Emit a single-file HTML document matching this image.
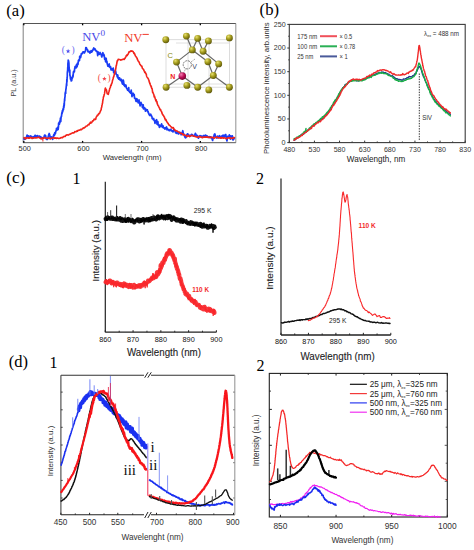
<!DOCTYPE html>
<html><head><meta charset="utf-8"><style>html,body{margin:0;padding:0;background:#fff;width:474px;height:550px;overflow:hidden}svg{display:block}</style></head><body>
<svg width="474" height="550" viewBox="0 0 474 550">
<rect width="474" height="550" fill="#fff"/>
<text x="6.2" y="16.2" font-family='"Liberation Serif", serif' font-size="17" fill="#000" text-anchor="start" textLength="18.5" lengthAdjust="spacingAndGlyphs" >(a)</text>
<line x1="23.2" y1="23.5" x2="23.2" y2="142.7" stroke="#8a8a8a" stroke-width="1.1" />
<line x1="235.8" y1="23.5" x2="235.8" y2="142.7" stroke="#9a9a9a" stroke-width="1.1" />
<line x1="23.2" y1="23.5" x2="235.8" y2="23.5" stroke="#555" stroke-width="1" />
<line x1="23.2" y1="142.7" x2="235.8" y2="142.7" stroke="#555" stroke-width="1" />
<line x1="23.8" y1="142.7" x2="23.8" y2="140.89999999999998" stroke="#000" stroke-width="1.3" />
<line x1="23.8" y1="23.5" x2="23.8" y2="25.3" stroke="#000" stroke-width="1.3" />
<text x="24.7" y="151.3" font-family='"Liberation Sans", sans-serif' font-size="7.4" fill="#2a2a2a" text-anchor="middle" textLength="12.3" lengthAdjust="spacingAndGlyphs" >500</text>
<line x1="82.6" y1="142.7" x2="82.6" y2="140.89999999999998" stroke="#000" stroke-width="1.3" />
<line x1="82.6" y1="23.5" x2="82.6" y2="25.3" stroke="#000" stroke-width="1.3" />
<text x="83.5" y="151.3" font-family='"Liberation Sans", sans-serif' font-size="7.4" fill="#2a2a2a" text-anchor="middle" textLength="12.3" lengthAdjust="spacingAndGlyphs" >600</text>
<line x1="141.6" y1="142.7" x2="141.6" y2="140.89999999999998" stroke="#000" stroke-width="1.3" />
<line x1="141.6" y1="23.5" x2="141.6" y2="25.3" stroke="#000" stroke-width="1.3" />
<text x="142.5" y="151.3" font-family='"Liberation Sans", sans-serif' font-size="7.4" fill="#2a2a2a" text-anchor="middle" textLength="12.3" lengthAdjust="spacingAndGlyphs" >700</text>
<line x1="200.3" y1="142.7" x2="200.3" y2="140.89999999999998" stroke="#000" stroke-width="1.3" />
<line x1="200.3" y1="23.5" x2="200.3" y2="25.3" stroke="#000" stroke-width="1.3" />
<text x="201.20000000000002" y="151.3" font-family='"Liberation Sans", sans-serif' font-size="7.4" fill="#2a2a2a" text-anchor="middle" textLength="12.3" lengthAdjust="spacingAndGlyphs" >800</text>
<text x="132.2" y="159.5" font-family='"Liberation Sans", sans-serif' font-size="7.5" fill="#2a2a2a" text-anchor="middle" textLength="59" lengthAdjust="spacingAndGlyphs" >Wavelength (nm)</text>
<text x="0" y="0" transform="translate(13.8,83) rotate(-90)" font-family='"Liberation Sans", sans-serif' font-size="7.6" fill="#444" text-anchor="middle" dominant-baseline="central" textLength="27" lengthAdjust="spacingAndGlyphs" >PL (a.u.)</text>
<path d="M24.0,138.3 L24.3,139.5 L24.7,138.6 L25.1,138.1 L25.5,138.9 L26.0,138.3 L26.5,137.2 L27.1,135.0 L27.7,137.4 L28.3,135.8 L28.9,137.8 L29.5,136.3 L30.1,136.7 L30.8,135.9 L31.4,137.0 L32.1,137.8 L32.7,136.9 L33.3,136.6 L33.9,137.6 L34.5,137.4 L35.0,135.3 L35.6,135.6 L36.2,137.5 L36.8,137.2 L37.3,135.5 L37.9,136.2 L38.5,136.6 L39.1,136.2 L39.6,136.1 L40.2,136.6 L40.8,137.4 L41.3,137.2 L41.9,138.4 L42.4,138.7 L43.0,137.6 L43.5,138.2 L44.0,137.2 L44.5,135.3 L45.0,135.0 L45.6,135.6 L46.3,139.2 L46.9,139.5 L47.5,139.4 L48.1,137.1 L48.6,135.1 L49.2,133.5 L49.8,135.3 L50.3,138.6 L50.8,137.2 L51.3,136.8 L51.8,138.2 L52.3,137.6 L52.7,139.3 L53.1,137.5 L53.5,135.8 L53.8,134.7 L54.1,135.8 L54.4,135.4 L54.7,132.9 L55.0,134.0 L55.3,133.8 L55.5,133.2 L55.8,131.0 L56.0,131.2 L56.3,130.3 L56.5,128.4 L56.7,130.2 L56.9,129.8 L57.2,129.1 L57.4,128.5 L57.6,129.9 L57.8,127.0 L58.0,127.1 L58.2,129.3 L58.3,128.2 L58.5,126.3 L58.6,123.2 L58.8,124.8 L59.0,123.7 L59.2,124.3 L59.3,123.6 L59.5,123.9 L59.6,121.4 L59.8,122.2 L59.9,122.6 L60.1,120.4 L60.3,120.1 L60.4,118.2 L60.6,120.8 L60.8,121.5 L60.9,119.4 L61.1,116.9 L61.2,117.5 L61.4,115.8 L61.5,116.5 L61.6,115.2 L61.8,112.9 L61.9,114.0 L62.1,113.5 L62.2,112.0 L62.4,110.7 L62.5,111.2 L62.7,111.8 L62.8,110.8 L63.0,108.8 L63.1,109.3 L63.2,109.4 L63.4,109.7 L63.5,109.3 L63.6,106.6 L63.7,106.3 L63.8,105.6 L63.9,107.8 L64.0,105.9 L64.0,104.5 L64.1,103.3 L64.2,105.9 L64.3,104.7 L64.4,101.4 L64.4,101.9 L64.5,100.8 L64.6,98.8 L64.7,100.4 L64.7,100.6 L64.8,97.9 L64.9,97.4 L64.9,97.2 L65.0,97.1 L65.1,95.2 L65.1,94.4 L65.2,92.9 L65.3,93.2 L65.4,93.5 L65.4,92.1 L65.5,92.2 L65.6,92.6 L65.7,93.5 L65.7,91.5 L65.8,90.2 L65.9,88.9 L66.0,89.3 L66.0,89.1 L66.1,88.3 L66.2,86.9 L66.2,86.5 L66.3,86.7 L66.4,85.2 L66.4,85.2 L66.5,84.0 L66.6,83.5 L66.6,84.7 L66.7,85.4 L66.7,83.5 L66.8,81.4 L66.8,79.6 L66.9,81.8 L66.9,82.1 L67.0,81.6 L67.0,81.4 L67.1,78.3 L67.1,77.2 L67.1,77.8 L67.2,77.8 L67.2,77.4 L67.3,76.0 L67.3,74.2 L67.4,71.5 L67.4,71.8 L67.5,71.4 L67.5,71.3 L67.5,71.2 L67.6,72.0 L67.6,69.8 L67.7,70.9 L67.7,71.0 L67.7,67.5 L67.8,67.8 L67.8,68.9 L67.9,66.3 L67.9,64.4 L67.9,63.5 L68.0,65.2 L68.0,63.5 L68.0,63.3 L68.1,61.7 L68.1,62.7 L68.2,61.8 L68.2,60.1 L68.3,60.6 L68.3,61.6 L68.4,63.5 L68.4,62.9 L68.5,63.5 L68.6,62.7 L68.6,60.8 L68.7,62.1 L68.8,62.0 L68.8,64.2 L68.9,62.8 L69.0,65.8 L69.1,67.6 L69.2,67.5 L69.2,69.4 L69.3,69.5 L69.4,70.1 L69.5,71.1 L69.6,72.6 L69.7,72.0 L69.8,70.0 L69.8,70.6 L69.9,75.4 L70.0,75.5 L70.1,76.0 L70.2,75.9 L70.3,76.6 L70.4,78.1 L70.5,79.1 L70.6,78.8 L70.7,78.6 L70.8,79.5 L70.9,78.0 L71.0,79.1 L71.1,80.9 L71.3,79.3 L71.4,80.8 L71.6,79.4 L71.7,80.6 L71.9,79.2 L72.0,77.4 L72.2,78.3 L72.4,78.2 L72.6,76.9 L72.8,75.5 L73.0,76.8 L73.2,74.7 L73.4,71.9 L73.6,72.9 L73.9,71.4 L74.1,70.9 L74.4,71.6 L74.6,69.2 L74.9,67.6 L75.1,66.5 L75.4,66.4 L75.6,67.1 L75.8,66.6 L76.0,67.9 L76.3,67.5 L76.5,64.6 L76.7,66.4 L76.9,66.9 L77.1,66.5 L77.3,65.4 L77.5,63.1 L77.7,63.2 L78.0,64.4 L78.2,62.5 L78.4,60.4 L78.6,61.3 L78.8,61.0 L79.0,59.6 L79.3,59.7 L79.5,60.5 L79.7,56.4 L80.0,57.9 L80.2,57.2 L80.4,56.0 L80.6,57.4 L80.8,56.7 L81.4,53.5 L81.9,54.0 L82.4,53.3 L83.0,51.8 L83.3,52.4 L83.6,51.8 L83.9,52.3 L84.2,53.0 L84.6,52.8 L84.9,51.8 L85.2,51.3 L85.5,51.1 L85.8,47.5 L86.4,47.8 L86.9,49.4 L87.5,49.6 L88.0,51.8 L88.6,52.0 L89.2,51.5 L90.0,53.1 L90.5,52.3 L91.1,50.6 L91.7,52.1 L92.4,51.0 L93.0,49.5 L93.7,48.0 L94.2,49.7 L94.7,48.7 L95.2,49.1 L95.7,50.5 L96.1,51.2 L96.5,51.1 L97.0,51.3 L97.4,53.0 L97.7,55.7 L98.1,51.9 L98.5,53.3 L98.9,53.8 L99.3,54.4 L99.7,53.3 L100.1,52.5 L100.6,53.6 L101.2,54.7 L101.8,57.0 L102.4,53.9 L102.9,52.7 L103.5,55.6 L103.8,54.3 L104.0,54.8 L104.2,55.4 L104.4,57.0 L104.7,59.4 L104.9,59.3 L105.1,57.8 L105.4,58.7 L105.6,61.8 L105.9,60.3 L106.2,58.4 L106.5,62.2 L106.9,61.2 L107.2,63.8 L107.5,64.4 L107.8,66.2 L108.1,66.1 L108.4,66.4 L108.8,64.5 L109.2,64.0 L109.5,66.4 L109.9,67.3 L110.3,66.5 L110.7,67.0 L111.0,69.8 L111.4,70.0 L111.8,69.9 L112.2,68.7 L112.6,69.3 L112.9,70.2 L113.3,68.2 L113.6,72.3 L113.9,72.8 L114.3,71.2 L114.6,73.2 L114.9,73.5 L115.3,73.5 L115.6,70.8 L115.9,72.6 L116.2,74.1 L116.5,74.7 L116.9,74.7 L117.2,77.0 L117.5,76.7 L117.8,75.0 L118.1,78.5 L118.5,78.3 L118.8,79.1 L119.2,77.8 L119.5,78.4 L119.8,78.1 L120.2,80.3 L120.5,80.5 L120.8,80.2 L121.2,79.3 L121.5,79.5 L121.9,82.1 L122.2,83.3 L122.6,84.1 L122.9,82.7 L123.3,80.1 L123.6,81.5 L124.0,85.4 L124.4,84.4 L124.8,86.3 L125.1,86.5 L125.5,85.1 L125.9,85.0 L126.3,87.1 L126.6,88.3 L127.0,88.8 L127.3,89.3 L127.6,90.1 L128.0,89.4 L128.3,90.6 L128.7,87.5 L129.0,91.3 L129.4,91.6 L129.8,92.3 L130.1,91.8 L130.5,93.1 L130.8,92.9 L131.2,90.0 L131.6,93.5 L132.0,96.7 L132.3,94.6 L132.7,94.3 L133.1,93.2 L133.5,95.4 L133.8,95.4 L134.2,94.5 L134.6,98.3 L135.0,98.4 L135.3,98.3 L135.7,100.1 L136.0,101.3 L136.4,101.3 L136.8,98.6 L137.1,99.3 L137.5,101.5 L137.9,101.8 L138.2,102.9 L138.6,102.3 L139.0,99.9 L139.4,102.8 L139.8,104.1 L140.1,105.9 L140.5,103.8 L140.9,102.3 L141.3,103.3 L141.6,104.2 L142.0,104.6 L142.4,107.5 L142.8,107.6 L143.2,104.9 L143.5,109.0 L143.9,107.3 L144.3,107.9 L144.7,108.3 L145.0,108.2 L145.4,111.1 L145.8,110.6 L146.2,109.4 L146.6,110.4 L147.0,110.2 L147.3,109.8 L147.7,111.7 L148.1,111.4 L148.5,113.1 L148.9,114.1 L149.3,114.5 L149.6,115.5 L150.0,114.5 L150.4,114.2 L150.8,114.3 L151.1,115.7 L151.5,116.3 L151.8,116.2 L152.2,118.7 L152.5,118.4 L152.9,118.4 L153.2,119.6 L153.7,118.6 L154.1,120.3 L154.6,121.1 L155.0,123.4 L155.4,120.6 L155.8,121.0 L156.2,120.7 L156.6,119.7 L157.0,124.1 L157.4,124.5 L157.8,121.5 L158.2,124.0 L158.5,125.3 L158.9,124.7 L159.4,127.4 L159.8,126.8 L160.2,125.3 L160.7,125.4 L161.1,126.5 L161.6,123.9 L162.1,125.6 L162.6,127.5 L163.0,125.8 L163.5,127.7 L164.0,128.2 L164.5,127.9 L165.0,129.2 L165.5,127.8 L166.0,127.7 L166.5,127.0 L167.0,129.9 L167.5,128.6 L168.0,129.4 L168.5,129.8 L169.0,130.6 L169.5,130.6 L170.0,129.5 L170.5,129.4 L170.9,129.3 L171.4,131.0 L171.9,130.6 L172.4,131.2 L173.0,131.9 L173.6,129.9 L174.2,129.7 L174.9,130.7 L175.6,132.6 L176.4,133.3 L176.8,132.1 L177.3,131.9 L177.7,133.1 L178.2,133.9 L178.6,134.0 L179.1,133.1 L179.6,132.3 L180.1,132.4 L180.6,133.1 L181.2,134.8 L181.7,133.2 L182.3,132.5 L182.8,130.7 L183.4,133.8 L183.9,134.0 L184.5,136.0 L185.1,137.5 L185.7,137.9 L186.2,137.1 L186.8,134.9 L187.4,133.8 L188.0,134.1 L188.6,135.2 L189.2,136.0 L189.7,135.3 L190.3,135.9 L190.9,135.7 L191.5,134.3 L192.0,134.5 L192.6,134.9 L193.1,135.9 L193.7,136.1 L194.2,135.3 L194.7,135.2 L195.3,133.4 L195.8,134.0 L196.3,136.2 L196.8,135.4 L197.4,135.6 L197.9,136.9 L198.4,138.2 L198.9,137.4 L199.5,136.2 L200.0,135.7 L200.5,135.8 L201.1,135.9 L201.6,136.2 L202.1,137.0 L202.7,136.8 L203.3,135.7 L203.8,135.6 L204.4,136.7 L205.0,135.3 L205.6,135.2 L206.2,136.4 L206.8,135.7 L207.4,136.3 L208.0,137.4 L208.7,136.8 L209.3,136.7 L210.0,137.6 L210.5,136.8 L211.0,137.6 L211.5,137.3 L212.0,138.7 L212.6,140.5 L213.2,137.8 L213.7,136.9 L214.3,134.5 L214.9,134.0 L215.6,137.1 L216.2,137.1 L216.8,138.1 L217.4,136.1 L218.1,137.6 L218.7,137.0 L219.4,135.7 L220.0,136.9 L220.7,137.8 L221.3,136.2 L222.0,137.0 L222.6,135.4 L223.3,136.9 L223.9,135.1 L224.6,136.3 L225.2,135.1 L225.8,134.5 L226.4,138.8 L227.0,140.9 L227.6,136.4 L228.2,137.4 L228.8,136.6 L229.3,134.9 L229.9,136.3 L230.4,139.1 L230.9,135.9 L231.4,137.2 L231.8,137.2 L232.3,135.8 L232.7,139.3 L233.1,140.0 L233.4,137.7 L233.8,139.1 L234.1,138.0 L234.4,138.1" fill="none" stroke="#1a3cf5" stroke-width="1.7" stroke-linejoin="round" stroke-linecap="round" />
<path d="M24.0,137.6 L24.3,138.0 L24.7,138.3 L25.1,138.5 L25.5,138.9 L26.0,137.9 L26.5,138.0 L27.1,137.7 L27.6,137.8 L28.2,138.2 L28.8,137.9 L29.4,138.2 L30.1,137.4 L30.8,138.0 L31.4,137.5 L32.1,138.5 L32.8,138.0 L33.5,138.1 L34.3,137.7 L35.0,137.7 L35.7,138.0 L36.4,137.7 L37.2,137.8 L37.9,137.3 L38.6,137.3 L39.3,137.6 L40.0,138.3 L40.6,138.5 L41.1,139.0 L41.7,138.2 L42.3,138.5 L42.9,138.1 L43.5,138.0 L44.2,137.8 L44.8,137.9 L45.5,137.9 L46.1,138.3 L46.8,138.2 L47.5,138.4 L48.1,138.3 L48.8,138.1 L49.5,137.9 L50.1,138.9 L50.8,138.4 L51.4,138.5 L52.1,138.1 L52.8,137.8 L53.4,137.5 L54.0,138.0 L54.6,138.2 L55.3,137.8 L55.8,138.3 L56.4,138.4 L57.0,137.8 L57.5,138.2 L58.1,138.3 L58.6,138.5 L59.1,138.4 L59.6,138.2 L60.0,138.3 L60.9,137.6 L61.7,137.6 L62.5,137.7 L63.2,136.9 L63.8,136.5 L64.4,136.4 L64.9,136.5 L65.4,136.2 L65.9,135.4 L66.3,135.0 L66.8,135.2 L67.2,134.9 L67.7,134.9 L68.2,135.1 L68.7,134.9 L69.3,134.4 L69.9,134.3 L70.5,134.0 L71.0,133.6 L71.6,133.5 L72.1,133.0 L72.7,132.9 L73.2,132.9 L73.8,132.9 L74.3,132.6 L74.9,131.5 L75.4,131.8 L76.0,131.8 L76.6,131.6 L77.1,130.6 L77.7,131.1 L78.3,130.3 L78.9,130.2 L79.4,130.1 L80.0,130.0 L80.6,129.4 L81.2,129.8 L81.8,129.3 L82.3,128.6 L82.9,128.7 L83.4,127.8 L83.9,127.8 L84.5,127.9 L85.0,127.1 L85.6,126.9 L86.1,126.1 L86.6,126.0 L87.1,126.0 L87.6,125.4 L88.1,124.7 L88.5,124.6 L89.0,124.8 L89.5,123.6 L90.0,123.0 L90.5,122.1 L90.9,123.1 L91.4,122.7 L91.8,122.5 L92.2,121.5 L92.7,120.8 L93.1,120.9 L93.6,120.4 L94.0,119.3 L94.4,119.0 L94.9,119.5 L95.3,119.0 L95.7,119.3 L96.1,117.3 L96.4,116.8 L96.8,116.4 L97.2,115.5 L97.5,115.1 L97.9,115.3 L98.3,114.2 L98.6,114.0 L99.0,113.4 L99.3,113.7 L99.6,113.1 L100.0,112.2 L100.3,111.2 L100.5,110.9 L100.8,110.5 L101.0,109.9 L101.2,109.6 L101.3,108.0 L101.5,107.8 L101.6,107.3 L101.8,106.7 L101.9,105.4 L102.0,105.2 L102.2,104.7 L102.3,103.8 L102.4,103.4 L102.5,103.4 L102.6,102.8 L102.7,101.4 L102.8,100.7 L102.9,100.5 L103.0,99.4 L103.1,99.3 L103.2,98.7 L103.3,97.9 L103.5,96.9 L103.7,96.4 L103.8,96.2 L104.0,95.8 L104.1,94.7 L104.2,94.4 L104.4,94.0 L104.5,93.7 L104.6,93.1 L104.7,92.4 L104.8,91.7 L104.9,91.0 L105.0,89.8 L105.1,89.3 L105.2,88.6 L105.4,88.1 L105.6,88.5 L105.8,90.0 L106.1,89.5 L106.4,89.8 L106.7,91.1 L107.0,92.9 L107.2,93.5 L107.5,94.0 L107.8,94.0 L108.0,93.9 L108.3,94.3 L108.5,93.5 L108.7,92.4 L108.9,91.7 L109.1,91.2 L109.4,90.0 L109.6,89.2 L109.8,88.3 L110.0,87.9 L110.2,87.9 L110.4,87.2 L110.6,86.1 L110.8,85.3 L111.0,85.0 L111.2,85.3 L111.5,83.8 L111.7,83.7 L112.0,82.8 L112.1,82.6 L112.3,81.8 L112.4,80.7 L112.6,80.2 L112.8,79.8 L112.9,79.2 L113.1,78.5 L113.3,77.7 L113.4,77.3 L113.6,77.0 L113.8,76.6 L114.0,75.6 L114.2,75.0 L114.3,74.0 L114.5,73.6 L114.7,73.9 L114.8,72.6 L115.0,72.2 L115.2,71.0 L115.3,70.3 L115.5,69.4 L115.6,69.6 L115.8,68.6 L115.9,67.5 L116.0,67.3 L116.1,65.7 L116.3,65.9 L116.4,65.4 L116.5,65.0 L116.6,64.2 L116.8,63.5 L116.9,62.4 L117.0,62.3 L117.2,60.7 L117.4,61.2 L117.6,60.8 L117.8,60.3 L118.3,59.2 L118.9,59.4 L119.6,59.6 L120.3,59.8 L121.0,60.2 L121.7,59.7 L122.3,59.4 L122.9,59.6 L123.4,59.0 L123.9,59.3 L124.3,59.4 L124.7,58.5 L125.0,58.3 L125.4,57.5 L125.8,56.8 L126.3,55.6 L126.7,55.8 L127.0,54.8 L127.4,55.3 L127.8,54.3 L128.2,54.0 L128.6,52.9 L129.0,51.8 L129.4,52.1 L129.8,51.9 L130.1,51.7 L130.5,51.0 L131.1,50.9 L131.6,51.3 L132.1,51.1 L132.7,51.3 L133.2,51.7 L133.9,53.5 L134.2,53.0 L134.4,53.3 L134.7,54.2 L135.0,54.8 L135.3,55.7 L135.6,56.1 L135.9,56.3 L136.2,56.9 L136.5,57.3 L136.8,57.9 L137.1,58.2 L137.5,59.8 L137.8,59.9 L138.1,61.1 L138.4,61.2 L138.7,61.6 L139.0,61.9 L139.3,62.6 L139.6,63.5 L139.9,64.3 L140.3,64.6 L140.6,65.1 L140.9,65.6 L141.2,65.8 L141.5,66.1 L141.8,66.0 L142.1,67.2 L142.4,68.4 L142.8,68.5 L143.1,69.1 L143.4,69.2 L143.7,69.7 L144.0,70.8 L144.3,70.9 L144.6,71.9 L144.8,72.4 L145.1,72.7 L145.4,72.4 L145.7,73.6 L146.0,73.6 L146.3,74.1 L146.5,75.7 L146.8,76.5 L147.1,77.1 L147.4,77.6 L147.7,77.7 L147.9,78.4 L148.2,78.6 L148.5,79.3 L148.7,80.2 L149.0,80.3 L149.2,81.8 L149.4,81.8 L149.6,82.8 L149.9,83.6 L150.1,83.5 L150.3,84.7 L150.5,85.3 L150.7,85.4 L150.9,85.9 L151.1,86.7 L151.3,86.4 L151.5,87.6 L151.7,88.3 L151.9,88.6 L152.1,88.6 L152.3,89.8 L152.5,91.3 L152.6,92.3 L152.8,92.1 L153.0,92.6 L153.2,93.2 L153.4,93.9 L153.7,94.1 L153.9,95.0 L154.1,96.3 L154.3,97.0 L154.6,96.3 L154.8,97.4 L155.0,97.7 L155.2,98.8 L155.4,99.1 L155.6,99.7 L155.8,100.5 L156.1,99.7 L156.3,101.7 L156.5,101.4 L156.7,101.2 L157.0,101.8 L157.2,103.6 L157.5,104.2 L157.8,105.2 L158.1,105.5 L158.3,105.6 L158.6,106.6 L158.9,106.8 L159.1,107.6 L159.4,108.0 L159.7,108.7 L159.9,109.3 L160.2,109.9 L160.5,109.4 L160.8,110.2 L161.0,110.8 L161.3,111.3 L161.6,111.7 L161.8,112.6 L162.1,113.6 L162.4,113.9 L162.7,114.8 L162.9,114.7 L163.2,115.3 L163.5,115.6 L163.8,116.1 L164.1,116.9 L164.5,117.2 L164.8,118.7 L165.1,119.2 L165.4,119.9 L165.8,119.3 L166.1,120.1 L166.4,121.1 L166.8,121.4 L167.1,122.1 L167.5,122.7 L167.8,123.2 L168.2,123.5 L168.6,124.5 L168.9,124.7 L169.3,125.3 L169.7,125.3 L170.1,125.7 L170.5,126.2 L171.0,126.7 L171.4,127.1 L171.9,128.0 L172.4,127.5 L172.8,127.9 L173.3,127.5 L173.8,128.7 L174.4,129.9 L174.9,129.8 L175.4,130.6 L175.9,130.5 L176.4,130.9 L177.0,131.1 L177.5,131.3 L178.1,131.7 L178.6,132.0 L179.2,132.3 L179.7,132.6 L180.3,133.4 L180.9,133.0 L181.4,133.6 L182.0,133.8 L182.5,133.7 L183.0,134.8 L183.4,134.3 L183.8,134.8 L184.3,135.3 L184.8,135.1 L185.4,135.3 L186.1,135.6 L187.0,136.6 L188.0,135.8 L188.4,135.4 L188.8,136.3 L189.3,136.2 L189.7,136.6 L190.2,136.3 L190.7,135.8 L191.2,135.8 L191.7,135.4 L192.2,135.3 L192.8,135.8 L193.3,135.9 L193.9,136.3 L194.4,136.2 L195.0,136.5 L195.6,136.7 L196.3,136.8 L196.9,137.2 L197.6,137.1 L198.2,137.0 L198.9,136.5 L199.6,136.5 L200.3,136.9 L201.1,137.1 L201.8,137.5 L202.6,137.8 L203.4,136.9 L204.2,137.2 L205.0,137.1 L205.5,137.1 L206.0,137.3 L206.5,137.1 L207.1,137.3 L207.6,136.9 L208.2,137.4 L208.8,137.4 L209.4,137.2 L210.0,137.6 L210.7,137.1 L211.3,137.5 L212.0,137.4 L212.7,137.5 L213.4,137.4 L214.0,138.2 L214.7,137.9 L215.4,137.4 L216.1,137.2 L216.9,137.1 L217.6,137.5 L218.3,137.9 L219.0,138.0 L219.7,137.7 L220.4,138.1 L221.1,137.4 L221.8,138.1 L222.5,137.7 L223.2,138.2 L223.9,137.9 L224.6,137.8 L225.2,138.2 L225.9,138.3 L226.5,138.8 L227.2,138.3 L227.8,137.7 L228.4,137.9 L229.0,137.7 L229.5,138.1 L230.1,137.8 L230.6,138.2 L231.1,138.0 L231.6,138.5 L232.1,138.3 L232.6,138.0 L233.0,137.8 L233.4,138.1 L233.7,137.6 L234.1,137.8 L234.4,137.5" fill="none" stroke="#f2231a" stroke-width="1.6" stroke-linejoin="round" stroke-linecap="round" />
<line x1="42.9" y1="137.5" x2="42.9" y2="141.5" stroke="#f2231a" stroke-width="1" />
<text x="68.2" y="53.2" font-family='"Liberation Serif", serif' font-size="9.5" fill="#6a6af0" text-anchor="middle" >(<tspan dx="4.2"> </tspan>)</text>
<polygon points="68.10,48.80 68.69,50.38 70.38,50.46 69.06,51.51 69.51,53.14 68.10,52.21 66.69,53.14 67.14,51.51 65.82,50.46 67.51,50.38" fill="#4a4af0"/>
<text x="82.2" y="40.8" font-family='"Liberation Serif", serif' font-size="11.5" fill="#4a4ae8" text-anchor="start" textLength="18.3" lengthAdjust="spacingAndGlyphs" >NV</text>
<text x="100.6" y="36.3" font-family='"Liberation Serif", serif' font-size="8.5" fill="#4a4ae8" text-anchor="start" textLength="4.6" lengthAdjust="spacingAndGlyphs" >0</text>
<text x="104.3" y="81.0" font-family='"Liberation Serif", serif' font-size="9.5" fill="#f2504a" text-anchor="middle" >(<tspan dx="4.2"> </tspan>)</text>
<polygon points="104.40,76.40 104.99,77.98 106.68,78.06 105.36,79.11 105.81,80.74 104.40,79.81 102.99,80.74 103.44,79.11 102.12,78.06 103.81,77.98" fill="#f2404a"/>
<text x="124.2" y="41.9" font-family='"Liberation Serif", serif' font-size="11.5" fill="#f03a2a" text-anchor="start" textLength="18.3" lengthAdjust="spacingAndGlyphs" >NV</text>
<line x1="142.5" y1="34.4" x2="148.8" y2="34.4" stroke="#f03a2a" stroke-width="1.0" />
<g stroke="#d4d4d4" stroke-width="0.8" fill="none">
<rect x="166" y="39.7" width="63.4" height="47.5"/>
<line x1="176" y1="43" x2="229" y2="43" stroke="#d8d8d8" stroke-width="0.8" />
<line x1="188" y1="40" x2="188" y2="88" stroke="#d8d8d8" stroke-width="0.8" />
<line x1="209" y1="42" x2="209" y2="89" stroke="#d8d8d8" stroke-width="0.8" />
<line x1="166" y1="84" x2="229" y2="84" stroke="#d8d8d8" stroke-width="0.8" />
</g>
<line x1="186.4" y1="36.1" x2="192.3" y2="49.9" stroke="#666" stroke-width="1.2" />
<line x1="197.7" y1="38.4" x2="192.3" y2="49.9" stroke="#666" stroke-width="1.2" />
<line x1="197.7" y1="38.4" x2="203.1" y2="51.3" stroke="#666" stroke-width="1.2" />
<line x1="208.4" y1="40.9" x2="203.1" y2="51.3" stroke="#666" stroke-width="1.2" />
<line x1="192.3" y1="49.9" x2="176.5" y2="62.1" stroke="#666" stroke-width="1.2" />
<line x1="192.3" y1="49.9" x2="207.9" y2="61.7" stroke="#666" stroke-width="1.2" />
<line x1="203.1" y1="51.3" x2="218.7" y2="63.9" stroke="#666" stroke-width="1.2" />
<line x1="176.5" y1="62.1" x2="182.3" y2="76.1" stroke="#666" stroke-width="1.2" />
<line x1="182.3" y1="76.1" x2="166.1" y2="87.2" stroke="#666" stroke-width="1.2" />
<line x1="182.3" y1="76.1" x2="197.7" y2="87.2" stroke="#666" stroke-width="1.2" />
<line x1="207.9" y1="61.7" x2="213.3" y2="75.5" stroke="#666" stroke-width="1.2" />
<line x1="218.7" y1="63.9" x2="213.3" y2="75.5" stroke="#666" stroke-width="1.2" />
<line x1="213.3" y1="75.5" x2="197.7" y2="87.2" stroke="#666" stroke-width="1.2" />
<line x1="213.3" y1="75.5" x2="229.4" y2="87.2" stroke="#666" stroke-width="1.2" />
<defs><radialGradient id="gold" cx="0.35" cy="0.3" r="0.75"><stop offset="0" stop-color="#e8e070"/><stop offset="0.45" stop-color="#a8a020"/><stop offset="1" stop-color="#5a5408"/></radialGradient><radialGradient id="mag" cx="0.35" cy="0.3" r="0.75"><stop offset="0" stop-color="#f080b0"/><stop offset="0.5" stop-color="#c0105a"/><stop offset="1" stop-color="#70002a"/></radialGradient></defs>
<circle cx="165.8" cy="39.7" r="3.45" fill="url(#gold)"/>
<circle cx="186.4" cy="36.1" r="3.45" fill="url(#gold)"/>
<circle cx="197.7" cy="38.4" r="3.45" fill="url(#gold)"/>
<circle cx="208.4" cy="40.9" r="3.45" fill="url(#gold)"/>
<circle cx="229.4" cy="37.9" r="3.45" fill="url(#gold)"/>
<circle cx="192.3" cy="49.9" r="3.45" fill="url(#gold)"/>
<circle cx="203.1" cy="51.3" r="3.45" fill="url(#gold)"/>
<circle cx="176.5" cy="62.1" r="3.45" fill="url(#gold)"/>
<circle cx="207.9" cy="61.7" r="3.45" fill="url(#gold)"/>
<circle cx="218.7" cy="63.9" r="3.45" fill="url(#gold)"/>
<circle cx="182.3" cy="76.1" r="3.8" fill="url(#mag)"/>
<circle cx="213.3" cy="75.5" r="3.45" fill="url(#gold)"/>
<circle cx="166.1" cy="87.2" r="3.45" fill="url(#gold)"/>
<circle cx="186.9" cy="85.4" r="3.45" fill="url(#gold)"/>
<circle cx="197.7" cy="87.2" r="3.45" fill="url(#gold)"/>
<circle cx="208.8" cy="89.9" r="3.45" fill="url(#gold)"/>
<circle cx="229.4" cy="87.2" r="3.45" fill="url(#gold)"/>
<circle cx="187.3" cy="64.8" r="4.1" fill="none" stroke="#555" stroke-width="0.8" stroke-dasharray="2,0.8"/>
<line x1="183.5" y1="73" x2="185.8" y2="68.5" stroke="#777" stroke-width="0.8" stroke-dasharray="1,1"/>
<line x1="191" y1="62" x2="195" y2="59" stroke="#777" stroke-width="0.8" stroke-dasharray="1,1"/>
<text x="192.3" y="69.3" font-family='"Liberation Sans", sans-serif' font-size="7" fill="#3a4a6a" text-anchor="start" >V</text>
<text x="167.5" y="58.3" font-family='"Liberation Sans", sans-serif' font-size="7.5" fill="#8a8a10" text-anchor="start" >C</text>
<text x="170.3" y="78.8" font-family='"Liberation Sans", sans-serif' font-size="7" fill="#f02020" text-anchor="start" font-weight="bold">N</text>
<text x="259.6" y="15.2" font-family='"Liberation Serif", serif' font-size="17" fill="#000" text-anchor="start" textLength="19.4" lengthAdjust="spacingAndGlyphs" >(b)</text>
<rect x="289.3" y="24.4" width="175.89999999999998" height="118.19999999999999" fill="none" stroke="#3a3a3a" stroke-width="1.1"/>
<line x1="287.3" y1="142.6" x2="289.3" y2="142.6" stroke="#333" stroke-width="1" />
<text x="285.6" y="144.79999999999998" font-family='"Liberation Sans", sans-serif' font-size="7.4" fill="#333" text-anchor="end" textLength="4" lengthAdjust="spacingAndGlyphs" >0</text>
<line x1="287.3" y1="118.96" x2="289.3" y2="118.96" stroke="#333" stroke-width="1" />
<text x="285.6" y="121.16" font-family='"Liberation Sans", sans-serif' font-size="7.4" fill="#333" text-anchor="end" textLength="7.9" lengthAdjust="spacingAndGlyphs" >50</text>
<line x1="287.3" y1="95.32" x2="289.3" y2="95.32" stroke="#333" stroke-width="1" />
<text x="285.6" y="97.52" font-family='"Liberation Sans", sans-serif' font-size="7.4" fill="#333" text-anchor="end" textLength="11.8" lengthAdjust="spacingAndGlyphs" >100</text>
<line x1="287.3" y1="71.67999999999999" x2="289.3" y2="71.67999999999999" stroke="#333" stroke-width="1" />
<text x="285.6" y="73.88" font-family='"Liberation Sans", sans-serif' font-size="7.4" fill="#333" text-anchor="end" textLength="11.8" lengthAdjust="spacingAndGlyphs" >150</text>
<line x1="287.3" y1="48.040000000000006" x2="289.3" y2="48.040000000000006" stroke="#333" stroke-width="1" />
<text x="285.6" y="50.24000000000001" font-family='"Liberation Sans", sans-serif' font-size="7.4" fill="#333" text-anchor="end" textLength="11.8" lengthAdjust="spacingAndGlyphs" >200</text>
<line x1="287.3" y1="24.400000000000006" x2="289.3" y2="24.400000000000006" stroke="#333" stroke-width="1" />
<text x="285.6" y="26.600000000000005" font-family='"Liberation Sans", sans-serif' font-size="7.4" fill="#333" text-anchor="end" textLength="11.8" lengthAdjust="spacingAndGlyphs" >250</text>
<line x1="288.1" y1="130.78" x2="289.3" y2="130.78" stroke="#333" stroke-width="0.8" />
<line x1="288.1" y1="107.13999999999999" x2="289.3" y2="107.13999999999999" stroke="#333" stroke-width="0.8" />
<line x1="288.1" y1="83.5" x2="289.3" y2="83.5" stroke="#333" stroke-width="0.8" />
<line x1="288.1" y1="59.860000000000014" x2="289.3" y2="59.860000000000014" stroke="#333" stroke-width="0.8" />
<line x1="288.1" y1="36.22000000000001" x2="289.3" y2="36.22000000000001" stroke="#333" stroke-width="0.8" />
<line x1="289.3" y1="142.6" x2="289.3" y2="140.6" stroke="#333" stroke-width="1" />
<text x="289.3" y="152.3" font-family='"Liberation Sans", sans-serif' font-size="7.4" fill="#333" text-anchor="middle" textLength="11.8" lengthAdjust="spacingAndGlyphs" >480</text>
<line x1="314.42857142857144" y1="142.6" x2="314.42857142857144" y2="140.6" stroke="#333" stroke-width="1" />
<text x="314.42857142857144" y="152.3" font-family='"Liberation Sans", sans-serif' font-size="7.4" fill="#333" text-anchor="middle" textLength="11.8" lengthAdjust="spacingAndGlyphs" >530</text>
<line x1="339.5571428571429" y1="142.6" x2="339.5571428571429" y2="140.6" stroke="#333" stroke-width="1" />
<text x="339.5571428571429" y="152.3" font-family='"Liberation Sans", sans-serif' font-size="7.4" fill="#333" text-anchor="middle" textLength="11.8" lengthAdjust="spacingAndGlyphs" >580</text>
<line x1="364.6857142857143" y1="142.6" x2="364.6857142857143" y2="140.6" stroke="#333" stroke-width="1" />
<text x="364.6857142857143" y="152.3" font-family='"Liberation Sans", sans-serif' font-size="7.4" fill="#333" text-anchor="middle" textLength="11.8" lengthAdjust="spacingAndGlyphs" >630</text>
<line x1="389.8142857142857" y1="142.6" x2="389.8142857142857" y2="140.6" stroke="#333" stroke-width="1" />
<text x="389.8142857142857" y="152.3" font-family='"Liberation Sans", sans-serif' font-size="7.4" fill="#333" text-anchor="middle" textLength="11.8" lengthAdjust="spacingAndGlyphs" >680</text>
<line x1="414.9428571428571" y1="142.6" x2="414.9428571428571" y2="140.6" stroke="#333" stroke-width="1" />
<text x="414.9428571428571" y="152.3" font-family='"Liberation Sans", sans-serif' font-size="7.4" fill="#333" text-anchor="middle" textLength="11.8" lengthAdjust="spacingAndGlyphs" >730</text>
<line x1="440.07142857142856" y1="142.6" x2="440.07142857142856" y2="140.6" stroke="#333" stroke-width="1" />
<text x="440.07142857142856" y="152.3" font-family='"Liberation Sans", sans-serif' font-size="7.4" fill="#333" text-anchor="middle" textLength="11.8" lengthAdjust="spacingAndGlyphs" >780</text>
<line x1="465.2" y1="142.6" x2="465.2" y2="140.6" stroke="#333" stroke-width="1" />
<text x="465.2" y="152.3" font-family='"Liberation Sans", sans-serif' font-size="7.4" fill="#333" text-anchor="middle" textLength="11.8" lengthAdjust="spacingAndGlyphs" >830</text>
<line x1="301.8642857142857" y1="142.6" x2="301.8642857142857" y2="141.29999999999998" stroke="#333" stroke-width="0.8" />
<line x1="326.99285714285713" y1="142.6" x2="326.99285714285713" y2="141.29999999999998" stroke="#333" stroke-width="0.8" />
<line x1="352.12142857142857" y1="142.6" x2="352.12142857142857" y2="141.29999999999998" stroke="#333" stroke-width="0.8" />
<line x1="377.25" y1="142.6" x2="377.25" y2="141.29999999999998" stroke="#333" stroke-width="0.8" />
<line x1="402.37857142857143" y1="142.6" x2="402.37857142857143" y2="141.29999999999998" stroke="#333" stroke-width="0.8" />
<line x1="427.50714285714287" y1="142.6" x2="427.50714285714287" y2="141.29999999999998" stroke="#333" stroke-width="0.8" />
<line x1="452.63571428571424" y1="142.6" x2="452.63571428571424" y2="141.29999999999998" stroke="#333" stroke-width="0.8" />
<text x="376" y="161.9" font-family='"Liberation Sans", sans-serif' font-size="8.4" fill="#1a1a1a" text-anchor="middle" textLength="58.3" lengthAdjust="spacingAndGlyphs" >Wavelength, nm</text>
<text x="0" y="0" transform="translate(266.2,88.2) rotate(-90)" font-family='"Liberation Sans", sans-serif' font-size="7.7" fill="#2a2a2a" text-anchor="middle" dominant-baseline="central" textLength="131.5" lengthAdjust="spacingAndGlyphs" >Photoluminescence intensity, arb.units</text>
<text x="297.3" y="38.5" font-family='"Liberation Sans", sans-serif' font-size="6.4" fill="#333" text-anchor="start" textLength="19.9" lengthAdjust="spacingAndGlyphs" >175 nm</text>
<line x1="320" y1="36.2" x2="337" y2="36.2" stroke="#f0505a" stroke-width="2.0" />
<text x="339.5" y="38.5" font-family='"Liberation Sans", sans-serif' font-size="6.4" fill="#333" text-anchor="start" textLength="12.7" lengthAdjust="spacingAndGlyphs" >× 0.5</text>
<text x="297.3" y="48.6" font-family='"Liberation Sans", sans-serif' font-size="6.4" fill="#333" text-anchor="start" textLength="19.9" lengthAdjust="spacingAndGlyphs" >100 nm</text>
<line x1="320" y1="46.300000000000004" x2="337" y2="46.300000000000004" stroke="#2ab055" stroke-width="2.0" />
<text x="339.5" y="48.6" font-family='"Liberation Sans", sans-serif' font-size="6.4" fill="#333" text-anchor="start" textLength="15.7" lengthAdjust="spacingAndGlyphs" >× 0.78</text>
<text x="297.3" y="58.7" font-family='"Liberation Sans", sans-serif' font-size="6.4" fill="#333" text-anchor="start" textLength="16" lengthAdjust="spacingAndGlyphs" >25 nm</text>
<line x1="320" y1="56.400000000000006" x2="337" y2="56.400000000000006" stroke="#4a5a9a" stroke-width="2.0" />
<text x="339.5" y="58.7" font-family='"Liberation Sans", sans-serif' font-size="6.4" fill="#333" text-anchor="start" textLength="8.3" lengthAdjust="spacingAndGlyphs" >× 1</text>
<text x="424" y="35.6" font-family='"Liberation Sans", sans-serif' font-size="6.4" fill="#333" text-anchor="start" textLength="35" lengthAdjust="spacingAndGlyphs" >λ<tspan font-size="3.8" dy="1.5">ex</tspan><tspan dy="-1.5"> = 488 nm</tspan></text>
<line x1="419.3" y1="73.5" x2="419.3" y2="140" stroke="#333" stroke-width="1.0" stroke-dasharray="1.4,1.2"/>
<text x="422.3" y="120.3" font-family='"Liberation Sans", sans-serif' font-size="6.8" fill="#333" text-anchor="start" textLength="9.7" lengthAdjust="spacingAndGlyphs" >SiV</text>
<path d="M294.0,140.1 L294.4,140.3 L294.8,138.8 L295.4,139.7 L296.0,138.7 L296.6,138.0 L297.3,137.5 L298.0,137.0 L298.7,136.8 L299.4,136.7 L300.0,136.2 L300.6,135.8 L301.2,134.6 L301.7,134.2 L302.3,134.9 L302.9,134.3 L303.4,134.3 L304.1,133.5 L304.7,132.3 L305.4,132.5 L306.1,131.7 L306.6,131.2 L307.1,130.4 L307.6,130.3 L308.1,129.8 L308.7,129.6 L309.2,128.9 L309.8,128.9 L310.4,127.6 L310.9,127.5 L311.5,127.0 L312.1,126.0 L312.7,125.4 L313.3,125.7 L313.9,125.0 L314.5,124.2 L315.1,123.9 L315.6,123.1 L316.2,123.1 L316.7,122.4 L317.3,122.3 L317.8,122.2 L318.4,121.3 L318.9,121.4 L319.5,120.3 L320.0,120.2 L320.6,119.5 L321.2,119.5 L321.7,119.1 L322.3,118.6 L322.9,118.1 L323.4,118.2 L324.0,117.7 L324.5,116.2 L325.1,116.4 L325.5,114.9 L325.9,114.8 L326.3,114.5 L326.7,114.1 L327.2,113.1 L327.6,112.7 L328.0,112.4 L328.4,111.6 L328.8,111.0 L329.3,110.8 L329.7,110.3 L330.1,109.4 L330.5,108.8 L330.9,108.1 L331.3,107.4 L331.8,106.7 L332.2,105.9 L332.6,105.9 L333.0,105.0 L333.3,104.4 L333.7,103.9 L334.1,103.4 L334.5,103.1 L334.8,102.0 L335.2,101.4 L335.6,100.9 L336.0,99.9 L336.4,100.0 L336.8,99.2 L337.1,98.4 L337.5,97.5 L337.9,97.1 L338.2,96.6 L338.5,95.7 L338.9,94.8 L339.2,93.7 L339.6,94.0 L339.9,92.9 L340.2,92.1 L340.6,92.1 L340.9,91.3 L341.3,90.1 L341.6,90.0 L342.0,89.4 L342.3,89.4 L342.7,87.8 L343.2,87.7 L343.7,87.2 L344.2,87.1 L344.7,85.7 L345.2,84.4 L345.7,84.4 L346.2,84.5 L346.7,84.2 L347.2,84.0 L347.8,83.1 L348.3,82.2 L348.8,82.4 L349.4,81.7 L349.9,81.3 L350.5,81.1 L351.1,81.2 L351.7,80.2 L352.4,80.0 L353.1,80.3 L353.8,80.2 L354.5,79.9 L355.2,79.9 L356.0,80.4 L356.7,80.8 L357.5,80.6 L358.2,80.7 L358.9,80.9 L359.6,79.8 L360.3,79.9 L361.0,80.2 L361.6,79.9 L362.3,79.8 L363.0,79.9 L363.6,79.2 L364.2,79.2 L364.8,78.4 L365.4,78.4 L366.0,78.9 L366.6,78.0 L367.2,77.9 L367.9,77.7 L368.5,77.0 L369.3,77.0 L370.0,76.6 L370.6,76.5 L371.2,75.8 L371.9,75.2 L372.6,75.0 L373.3,74.9 L374.0,75.0 L374.8,74.4 L375.5,74.0 L376.2,73.8 L377.0,73.9 L377.7,73.1 L378.4,73.6 L379.1,72.4 L379.8,72.4 L380.5,72.8 L381.1,72.5 L381.7,72.0 L382.5,72.2 L383.3,72.1 L384.0,72.7 L384.7,72.8 L385.3,72.6 L386.0,73.2 L386.6,73.2 L387.3,73.7 L387.9,74.0 L388.6,74.1 L389.3,74.8 L390.0,75.2 L390.6,75.4 L391.2,76.0 L391.9,75.9 L392.5,75.8 L393.2,76.6 L393.9,77.2 L394.5,77.5 L395.2,78.1 L395.9,78.6 L396.5,78.6 L397.2,79.0 L397.8,79.0 L398.4,79.9 L399.0,79.7 L399.6,79.5 L400.4,79.6 L401.2,79.8 L402.0,80.4 L402.7,80.0 L403.4,78.9 L404.1,79.1 L404.8,79.0 L405.6,78.8 L406.3,78.4 L407.0,77.8 L407.7,77.9 L408.4,77.4 L409.1,76.5 L409.9,76.8 L410.6,76.6 L411.3,76.9 L412.0,76.7 L412.7,75.6 L413.3,75.7 L413.9,75.4 L414.4,74.5 L415.0,73.7 L415.5,73.8 L415.9,73.2 L416.3,72.3 L416.6,70.9 L416.9,71.2 L417.2,70.4 L417.5,69.7 L417.9,69.0 L418.2,67.9 L418.5,67.7 L418.7,67.0 L419.0,66.4 L419.7,66.7 L420.5,68.0 L420.7,67.9 L420.9,69.0 L421.1,69.4 L421.4,69.7 L421.6,70.8 L421.8,71.9 L422.1,72.3 L422.4,73.8 L422.7,74.8 L423.0,74.9 L423.2,75.8 L423.5,76.9 L423.7,76.7 L424.0,77.1 L424.2,77.9 L424.5,78.2 L424.7,78.8 L425.0,80.1 L425.3,80.5 L425.6,81.5 L425.9,82.3 L426.3,82.6 L426.6,83.6 L427.0,84.4 L427.2,84.8 L427.5,85.3 L427.8,86.3 L428.0,86.8 L428.3,87.6 L428.6,88.5 L428.9,89.1 L429.2,89.1 L429.5,89.9 L429.8,90.8 L430.1,91.6 L430.4,92.5 L430.7,92.6 L431.0,93.4 L431.3,94.3 L431.6,95.4 L432.0,96.1 L432.3,95.8 L432.6,96.7 L432.9,97.1 L433.3,98.3 L433.6,98.7 L434.0,99.0 L434.5,99.6 L434.9,100.5 L435.3,101.4 L435.8,101.3 L436.3,102.0 L436.7,102.7 L437.2,103.2 L437.6,103.8 L438.1,103.9 L438.6,104.5 L439.1,104.4 L439.5,105.7 L440.0,106.5 L440.5,105.9 L441.0,106.8 L441.5,107.8 L442.0,107.9 L442.6,107.8 L443.2,109.4 L443.9,109.0 L444.5,110.5 L445.2,110.3 L445.8,110.7 L446.4,111.5 L447.1,111.9 L447.7,112.6 L448.2,112.9 L448.8,113.1 L449.3,113.9 L449.7,114.0 L450.1,114.2 L450.4,114.3" fill="none" stroke="#223a8c" stroke-width="1.4" stroke-linejoin="round" stroke-linecap="round" />
<path d="M294.0,139.0 L294.4,138.8 L294.8,138.5 L295.4,138.4 L296.0,138.7 L296.7,137.2 L297.3,137.7 L298.0,137.3 L298.7,136.3 L299.4,135.7 L300.0,135.7 L300.6,135.5 L301.2,135.4 L301.8,134.4 L302.5,134.2 L303.1,133.0 L303.7,132.4 L304.2,131.6 L304.7,131.4 L305.2,131.2 L305.5,131.1 L306.0,129.4 L306.0,129.1 L306.0,128.5 L305.9,128.9 L305.7,130.1 L305.8,132.1 L306.5,131.6 L306.8,131.0 L307.1,130.7 L307.5,131.3 L307.9,130.1 L308.4,130.2 L308.9,129.8 L309.4,128.0 L309.9,128.7 L310.5,127.6 L311.1,126.7 L311.6,126.2 L312.2,126.0 L312.8,125.3 L313.4,124.8 L314.0,123.8 L314.5,124.0 L315.1,123.5 L315.6,123.2 L316.1,122.5 L316.7,122.4 L317.2,122.0 L317.8,121.2 L318.3,120.8 L318.9,120.4 L319.4,120.0 L320.0,119.7 L320.6,118.4 L321.1,118.4 L321.7,118.3 L322.3,116.9 L322.8,116.7 L323.4,117.3 L324.0,115.8 L324.5,115.4 L325.1,115.1 L325.5,114.4 L325.9,113.8 L326.3,113.4 L326.7,112.9 L327.2,112.3 L327.6,112.0 L328.0,111.9 L328.4,110.9 L328.8,110.7 L329.3,109.8 L329.7,109.3 L330.1,108.5 L330.5,107.6 L330.9,107.2 L331.3,106.6 L331.8,105.5 L332.2,105.5 L332.6,104.8 L333.0,104.1 L333.3,103.2 L333.7,101.9 L334.1,102.7 L334.5,101.6 L334.8,100.3 L335.2,100.7 L335.6,99.6 L336.1,99.4 L336.5,98.4 L336.9,98.2 L337.2,97.2 L337.6,96.5 L338.0,95.8 L338.3,95.5 L338.7,94.0 L339.1,94.2 L339.4,93.4 L339.8,92.3 L340.1,91.9 L340.5,91.1 L340.8,90.7 L341.2,90.4 L341.6,89.3 L341.9,89.3 L342.3,88.8 L342.7,88.2 L343.2,87.9 L343.8,86.8 L344.3,86.5 L344.8,86.5 L345.4,85.2 L345.9,84.6 L346.4,84.2 L347.0,84.0 L347.5,83.1 L348.1,82.9 L348.7,82.0 L349.3,81.9 L349.9,81.6 L350.5,81.3 L351.1,81.2 L351.7,81.4 L352.4,80.9 L353.1,80.4 L353.8,80.9 L354.5,80.8 L355.2,80.3 L356.0,80.8 L356.7,80.4 L357.5,80.6 L358.2,80.5 L358.9,81.1 L359.6,80.5 L360.3,80.6 L361.0,80.7 L361.6,80.9 L362.4,80.7 L363.1,79.7 L363.8,80.2 L364.4,79.7 L365.1,79.7 L365.7,79.3 L366.4,78.4 L367.0,78.3 L367.7,77.9 L368.4,77.8 L369.2,77.9 L370.0,77.0 L370.6,76.5 L371.2,77.4 L371.9,75.9 L372.6,75.9 L373.3,75.6 L374.0,74.9 L374.8,75.3 L375.5,75.1 L376.2,74.4 L377.0,74.1 L377.7,73.8 L378.4,73.0 L379.1,73.5 L379.8,72.8 L380.5,72.7 L381.1,73.1 L381.7,73.2 L382.5,72.6 L383.3,73.4 L384.0,73.7 L384.7,73.4 L385.3,73.5 L386.0,73.9 L386.6,74.0 L387.3,74.2 L387.9,75.1 L388.6,75.5 L389.3,75.5 L390.0,75.9 L390.6,76.1 L391.2,76.4 L391.9,76.7 L392.5,76.9 L393.2,78.2 L393.9,78.2 L394.5,78.8 L395.2,79.9 L395.9,79.5 L396.5,80.3 L397.2,80.0 L397.8,80.5 L398.4,81.3 L399.0,81.2 L399.6,80.9 L400.4,81.0 L401.2,81.6 L402.0,81.1 L402.7,81.5 L403.4,81.1 L404.1,80.6 L404.8,80.4 L405.6,80.4 L406.3,79.8 L407.0,79.2 L407.7,79.4 L408.4,78.9 L409.1,78.7 L409.9,78.8 L410.6,78.4 L411.3,78.4 L412.0,77.7 L412.7,77.2 L413.3,76.9 L413.9,76.7 L414.4,75.8 L414.8,75.5 L415.2,74.7 L415.5,74.1 L415.8,73.6 L416.1,73.7 L416.3,72.0 L416.5,71.5 L416.7,70.6 L416.9,69.8 L417.1,69.2 L417.3,69.2 L417.5,67.9 L417.8,67.5 L418.1,66.2 L418.4,64.7 L418.6,64.0 L418.8,63.6 L419.0,63.0 L419.4,63.8 L419.7,64.1 L420.1,65.0 L420.5,65.6 L420.7,66.7 L420.9,66.9 L421.1,68.5 L421.3,68.4 L421.5,69.2 L421.7,70.0 L421.9,70.5 L422.2,71.3 L422.4,72.2 L422.7,73.4 L423.0,73.8 L423.2,74.5 L423.4,75.3 L423.6,75.7 L423.8,76.0 L424.1,76.7 L424.3,77.6 L424.5,78.1 L424.7,79.4 L425.0,79.8 L425.2,80.5 L425.5,80.9 L425.8,82.1 L426.1,82.6 L426.4,83.1 L426.7,84.0 L427.0,85.8 L427.2,85.4 L427.5,85.9 L427.8,87.2 L428.0,87.7 L428.3,88.0 L428.6,89.3 L428.9,89.0 L429.2,90.0 L429.5,90.3 L429.8,92.1 L430.1,92.3 L430.4,93.9 L430.7,93.9 L431.0,94.6 L431.3,94.7 L431.6,95.4 L432.0,96.2 L432.3,97.4 L432.6,97.3 L432.9,97.5 L433.3,99.1 L433.6,99.7 L434.0,99.7 L434.5,100.9 L434.9,101.7 L435.3,102.3 L435.8,102.0 L436.3,103.1 L436.7,103.3 L437.2,104.4 L437.6,104.6 L438.1,104.7 L438.6,105.6 L439.1,106.3 L439.5,106.0 L440.0,106.6 L440.5,107.3 L441.0,107.9 L441.5,108.3 L442.0,108.4 L442.6,109.0 L443.2,110.0 L443.9,110.7 L444.5,110.8 L445.2,111.7 L445.8,112.8 L446.4,112.6 L447.1,113.0 L447.7,113.4 L448.2,114.2 L448.8,114.6 L449.3,115.0 L449.7,115.1 L450.1,115.7 L450.4,115.9" fill="none" stroke="#1aae48" stroke-width="1.4" stroke-linejoin="round" stroke-linecap="round" />
<path d="M294.0,140.3 L294.4,139.9 L294.9,139.5 L295.6,138.4 L296.2,138.9 L297.0,137.6 L297.8,138.2 L298.5,137.6 L299.3,137.2 L300.0,136.8 L300.6,136.2 L301.2,135.5 L301.7,135.2 L302.3,135.5 L302.9,134.3 L303.4,134.0 L304.1,133.4 L304.7,133.0 L305.4,132.6 L306.1,132.2 L306.6,131.6 L307.1,131.2 L307.6,130.7 L308.1,130.5 L308.7,129.5 L309.2,129.5 L309.8,129.5 L310.4,128.3 L310.9,128.0 L311.5,128.5 L312.1,126.7 L312.7,126.0 L313.3,125.9 L313.9,126.2 L314.5,125.8 L315.1,124.2 L315.7,124.4 L316.2,123.8 L316.8,123.1 L317.4,122.3 L318.0,122.9 L318.6,121.9 L319.1,121.9 L319.7,121.4 L320.3,121.7 L320.9,121.0 L321.5,119.8 L322.1,119.6 L322.7,119.6 L323.3,118.3 L323.9,118.1 L324.5,117.7 L325.1,116.4 L325.5,116.1 L325.9,115.5 L326.4,115.7 L326.8,114.8 L327.2,114.8 L327.7,114.0 L328.1,113.6 L328.6,112.8 L329.0,112.5 L329.4,111.6 L329.9,110.6 L330.3,110.8 L330.7,110.1 L331.2,109.9 L331.6,108.4 L332.0,107.7 L332.4,106.7 L332.9,105.3 L333.3,105.5 L333.7,105.5 L334.1,104.5 L334.4,103.3 L334.8,103.8 L335.2,102.8 L335.6,102.2 L336.0,101.6 L336.4,101.0 L336.8,100.5 L337.2,99.1 L337.6,98.9 L338.0,98.1 L338.3,98.0 L338.7,96.6 L339.1,96.8 L339.4,95.8 L339.8,95.5 L340.1,94.0 L340.5,93.9 L340.8,93.1 L341.1,91.9 L341.4,91.8 L341.7,91.2 L342.0,90.5 L342.2,90.1 L342.5,89.4 L342.7,89.3 L343.5,88.4 L343.9,87.4 L344.2,86.9 L344.6,87.5 L345.2,86.4 L345.6,86.1 L346.0,85.4 L346.5,84.8 L347.0,84.5 L347.5,83.5 L348.0,83.0 L348.5,81.8 L349.1,81.1 L349.6,81.0 L350.1,81.3 L350.6,80.2 L351.1,80.5 L351.8,79.6 L352.6,79.3 L353.2,78.9 L353.9,79.1 L354.6,79.9 L355.3,79.7 L356.0,79.1 L356.6,79.1 L357.3,79.8 L357.9,79.3 L358.6,79.8 L359.3,79.3 L360.0,79.8 L360.8,80.0 L361.6,79.6 L362.2,79.2 L362.8,78.9 L363.4,78.6 L364.1,78.3 L364.8,78.4 L365.5,78.1 L366.2,77.5 L366.9,76.5 L367.6,76.4 L368.3,76.4 L368.9,75.9 L369.5,75.1 L370.1,75.5 L370.9,75.8 L371.6,74.1 L372.3,74.1 L372.9,74.3 L373.5,73.2 L374.1,72.8 L374.8,72.7 L375.4,72.5 L376.0,71.9 L376.7,72.0 L377.4,70.6 L378.1,71.1 L378.8,70.7 L379.4,70.2 L380.2,70.2 L380.9,69.9 L381.7,70.3 L382.4,69.7 L383.1,69.9 L383.8,69.6 L384.6,69.9 L385.4,70.5 L386.2,70.3 L386.9,70.8 L387.7,70.9 L388.4,71.5 L389.1,71.9 L389.8,72.5 L390.5,71.8 L391.2,72.7 L391.9,73.4 L392.5,73.9 L393.2,74.3 L393.8,73.6 L394.4,74.1 L395.0,74.7 L395.8,75.1 L396.6,75.0 L397.3,75.1 L398.1,75.1 L398.8,74.8 L399.6,75.1 L400.3,75.2 L401.1,74.7 L401.9,75.1 L402.7,73.6 L403.4,74.3 L404.2,74.8 L405.0,74.3 L405.7,74.3 L406.3,73.7 L407.0,73.0 L407.6,73.0 L408.3,73.5 L408.9,72.0 L409.6,72.0 L410.2,71.3 L410.7,71.3 L411.3,71.0 L411.9,70.9 L412.4,69.9 L413.0,70.3 L413.5,69.3 L414.1,68.4 L414.6,67.6 L415.0,66.8 L415.4,66.6 L415.7,66.7 L415.9,65.3 L416.2,64.4 L416.3,64.1 L416.5,63.3 L416.7,62.4 L416.8,61.3 L417.0,61.2 L417.1,61.0 L417.2,60.1 L417.4,59.2 L417.5,58.1 L417.6,57.5 L417.7,57.0 L417.8,55.8 L417.9,55.1 L418.0,54.0 L418.1,53.6 L418.2,52.0 L418.3,51.7 L418.4,50.8 L418.5,50.0 L418.6,49.1 L418.7,48.0 L418.7,47.3 L418.8,46.8 L418.9,46.3 L419.0,45.7 L419.1,45.6 L419.3,45.5 L419.4,45.6 L419.6,46.6 L419.7,47.0 L419.9,48.2 L420.1,49.7 L420.2,50.8 L420.4,51.2 L420.5,52.4 L420.6,52.7 L420.7,54.1 L420.8,54.5 L420.9,55.0 L421.0,55.2 L421.1,55.9 L421.2,56.8 L421.3,57.4 L421.4,58.0 L421.6,59.1 L421.7,59.3 L421.8,59.6 L421.9,60.6 L422.1,61.2 L422.2,62.2 L422.3,62.6 L422.5,63.5 L422.6,63.5 L422.7,65.5 L422.9,65.8 L423.1,66.0 L423.2,67.2 L423.4,68.2 L423.6,68.8 L423.8,69.2 L424.0,70.2 L424.2,70.9 L424.4,70.8 L424.6,71.4 L424.8,72.3 L425.0,73.5 L425.2,74.4 L425.4,74.5 L425.6,75.7 L425.8,76.2 L426.1,76.5 L426.3,76.9 L426.5,77.6 L426.8,78.6 L427.0,79.7 L427.3,80.2 L427.5,80.2 L427.8,80.9 L428.0,82.3 L428.2,82.7 L428.5,83.0 L428.7,84.3 L428.9,85.2 L429.2,85.7 L429.4,86.1 L429.6,87.3 L429.9,87.4 L430.1,88.0 L430.3,88.6 L430.6,90.3 L430.9,91.1 L431.1,91.0 L431.4,91.9 L431.7,92.5 L432.0,93.4 L432.3,94.1 L432.7,94.6 L433.0,95.0 L433.4,95.5 L433.7,95.9 L434.1,96.0 L434.6,97.5 L435.0,97.8 L435.4,98.8 L435.9,99.3 L436.3,99.6 L436.8,100.4 L437.2,101.3 L437.7,101.8 L438.2,102.0 L438.7,102.6 L439.1,103.6 L439.6,104.0 L440.1,104.5 L440.6,104.9 L441.0,105.7 L441.5,105.9 L442.1,107.3 L442.7,106.8 L443.3,107.3 L443.9,108.7 L444.6,108.6 L445.2,108.8 L445.8,109.7 L446.5,109.2 L447.1,110.6 L447.7,110.9 L448.3,111.4 L448.8,111.4 L449.3,112.5 L449.7,112.4 L450.1,112.6 L450.4,112.9" fill="none" stroke="#f02a2a" stroke-width="1.4" stroke-linejoin="round" stroke-linecap="round" />
<text x="6.2" y="183.3" font-family='"Liberation Serif", serif' font-size="17" fill="#000" text-anchor="start" textLength="19" lengthAdjust="spacingAndGlyphs" >(c)</text>
<text x="72.5" y="184.3" font-family='"Liberation Serif", serif' font-size="16" fill="#000" text-anchor="start" >1</text>
<line x1="105.3" y1="181.8" x2="105.3" y2="332.2" stroke="#222" stroke-width="1.2" />
<line x1="105.3" y1="332.2" x2="216.4" y2="332.2" stroke="#222" stroke-width="1.2" />
<line x1="105.3" y1="332.2" x2="105.3" y2="330.2" stroke="#222" stroke-width="1" />
<text x="105.3" y="341.6" font-family='"Liberation Sans", sans-serif' font-size="7.0" fill="#111" text-anchor="middle" textLength="12.2" lengthAdjust="spacingAndGlyphs" >860</text>
<line x1="133.075" y1="332.2" x2="133.075" y2="330.2" stroke="#222" stroke-width="1" />
<text x="133.075" y="341.6" font-family='"Liberation Sans", sans-serif' font-size="7.0" fill="#111" text-anchor="middle" textLength="12.2" lengthAdjust="spacingAndGlyphs" >870</text>
<line x1="160.85" y1="332.2" x2="160.85" y2="330.2" stroke="#222" stroke-width="1" />
<text x="160.85" y="341.6" font-family='"Liberation Sans", sans-serif' font-size="7.0" fill="#111" text-anchor="middle" textLength="12.2" lengthAdjust="spacingAndGlyphs" >880</text>
<line x1="188.625" y1="332.2" x2="188.625" y2="330.2" stroke="#222" stroke-width="1" />
<text x="188.625" y="341.6" font-family='"Liberation Sans", sans-serif' font-size="7.0" fill="#111" text-anchor="middle" textLength="12.2" lengthAdjust="spacingAndGlyphs" >890</text>
<line x1="216.39999999999998" y1="332.2" x2="216.39999999999998" y2="330.2" stroke="#222" stroke-width="1" />
<text x="216.39999999999998" y="341.6" font-family='"Liberation Sans", sans-serif' font-size="7.0" fill="#111" text-anchor="middle" textLength="12.2" lengthAdjust="spacingAndGlyphs" >900</text>
<line x1="119.1875" y1="332.2" x2="119.1875" y2="330.7" stroke="#222" stroke-width="0.9" />
<line x1="146.9625" y1="332.2" x2="146.9625" y2="330.7" stroke="#222" stroke-width="0.9" />
<line x1="174.7375" y1="332.2" x2="174.7375" y2="330.7" stroke="#222" stroke-width="0.9" />
<line x1="202.5125" y1="332.2" x2="202.5125" y2="330.7" stroke="#222" stroke-width="0.9" />
<text x="164" y="355.8" font-family='"Liberation Sans", sans-serif' font-size="10.1" fill="#222" text-anchor="middle" textLength="74" lengthAdjust="spacingAndGlyphs" stroke="#222" stroke-width="0.1">Wavelength (nm)</text>
<text x="0" y="0" transform="translate(95.3,250.8) rotate(-90)" font-family='"Liberation Sans", sans-serif' font-size="9.8" fill="#222" text-anchor="middle" dominant-baseline="central" textLength="61.5" lengthAdjust="spacingAndGlyphs" stroke="#222" stroke-width="0.1">Intensity (a.u.)</text>
<path d="M105.5,217.8 L105.7,218.6 L105.8,219.0 L106.0,217.1 L106.2,219.3 L106.4,218.5 L106.6,219.3 L106.8,219.0 L107.1,220.4 L107.3,217.6 L107.6,220.5 L107.8,219.3 L108.1,217.4 L108.4,218.8 L108.6,218.1 L108.9,216.2 L109.2,219.4 L109.5,217.2 L109.8,218.3 L110.1,217.1 L110.5,216.9 L110.8,218.4 L111.1,218.3 L111.4,216.6 L111.8,219.0 L112.1,217.8 L112.5,217.6 L112.8,218.5 L113.1,219.8 L113.5,219.4 L113.8,217.4 L114.2,217.1 L114.5,217.7 L114.9,219.2 L115.3,220.3 L115.6,218.6 L116.0,219.0 L116.3,218.8 L116.7,220.9 L117.0,216.6 L117.4,216.0 L117.7,218.2 L118.0,219.3 L118.4,218.0 L118.7,219.1 L119.0,218.2 L119.4,217.9 L119.7,217.8 L120.0,219.9 L120.3,220.3 L120.6,218.5 L120.9,218.9 L121.2,218.3 L121.5,220.1 L121.8,218.6 L122.1,219.2 L122.4,217.4 L122.6,217.2 L122.9,217.4 L123.2,218.4 L123.5,220.1 L123.9,219.7 L124.2,219.7 L124.5,219.5 L124.8,221.6 L125.1,219.1 L125.4,220.9 L125.7,222.3 L126.0,219.6 L126.3,222.1 L126.6,222.7 L126.9,220.9 L127.2,219.0 L127.5,217.5 L127.8,219.0 L128.1,222.8 L128.4,221.5 L128.7,220.9 L129.0,219.3 L129.3,218.7 L129.6,220.4 L129.9,218.5 L130.2,220.0 L130.5,221.7 L130.9,221.3 L131.2,222.0 L131.5,220.5 L131.8,221.8 L132.1,221.5 L132.4,217.8 L132.7,218.6 L133.0,219.4 L133.3,220.2 L133.6,220.6 L133.8,221.4 L134.1,220.2 L134.4,220.9 L134.7,222.0 L135.0,220.0 L135.3,219.0 L135.6,221.5 L135.9,220.2 L136.2,220.6 L136.5,220.1 L136.9,219.4 L137.2,218.6 L137.5,222.4 L137.8,222.1 L138.1,220.5 L138.4,220.0 L138.8,220.3 L139.1,219.9 L139.4,220.6 L139.7,220.1 L140.0,219.9 L140.3,220.7 L140.7,223.0 L141.0,218.1 L141.3,221.2 L141.6,221.4 L141.9,219.4 L142.2,222.1 L142.5,220.9 L142.8,219.4 L143.1,219.9 L143.5,218.7 L143.8,223.0 L144.1,224.5 L144.4,222.1 L144.7,218.5 L145.0,220.4 L145.3,220.8 L145.6,218.5 L145.9,218.9 L146.2,220.2 L146.4,219.6 L146.7,217.4 L147.0,217.5 L147.3,220.3 L147.6,219.8 L147.9,219.3 L148.1,220.9 L148.4,218.6 L148.7,217.0 L149.0,218.2 L149.2,221.9 L149.5,218.2 L149.7,222.1 L150.0,221.7 L150.4,219.4 L150.7,218.8 L151.1,220.5 L151.4,219.3 L151.8,218.4 L152.1,220.3 L152.5,218.4 L152.8,219.2 L153.1,219.5 L153.5,218.9 L153.8,218.6 L154.1,217.6 L154.4,218.8 L154.7,220.0 L155.0,219.4 L155.3,219.5 L155.6,219.7 L155.9,218.8 L156.2,217.2 L156.5,219.1 L156.8,215.5 L157.1,216.3 L157.3,217.8 L157.6,215.8 L157.9,219.9 L158.2,215.5 L158.4,215.0 L158.7,216.7 L159.0,216.7 L159.2,218.0 L159.5,217.9 L159.7,218.7 L160.0,216.7 L160.4,217.5 L160.7,216.4 L161.1,217.9 L161.4,215.6 L161.7,213.9 L162.1,218.5 L162.4,215.4 L162.7,216.0 L163.0,216.8 L163.3,218.3 L163.6,215.4 L163.9,216.2 L164.2,216.3 L164.5,218.7 L164.8,216.8 L165.0,216.1 L165.3,215.7 L165.6,220.4 L165.9,217.1 L166.2,216.9 L166.4,216.0 L166.7,214.4 L167.0,216.5 L167.3,214.4 L167.6,217.6 L167.9,216.6 L168.2,217.2 L168.5,218.6 L168.8,214.3 L169.1,217.6 L169.4,219.2 L169.7,216.7 L170.0,218.1 L170.3,217.0 L170.6,218.7 L170.9,217.4 L171.2,215.8 L171.5,217.8 L171.8,216.8 L172.1,217.6 L172.4,219.0 L172.7,219.7 L173.0,219.2 L173.3,216.4 L173.5,218.3 L173.8,217.3 L174.1,219.6 L174.4,218.5 L174.7,220.9 L174.9,220.0 L175.2,219.8 L175.5,220.1 L175.8,217.4 L176.1,220.1 L176.4,219.4 L176.7,217.6 L177.0,219.7 L177.3,220.1 L177.6,220.0 L177.9,219.6 L178.2,221.2 L178.5,221.2 L178.8,220.1 L179.1,219.8 L179.4,219.1 L179.7,218.8 L180.0,221.0 L180.3,219.5 L180.5,218.4 L180.8,221.0 L181.1,222.3 L181.3,219.9 L181.6,221.3 L181.8,221.5 L182.1,219.4 L182.4,220.9 L182.6,221.4 L182.9,223.2 L183.1,218.4 L183.4,223.3 L183.7,222.6 L184.0,220.0 L184.2,222.3 L184.5,221.0 L184.8,221.4 L185.1,222.1 L185.5,223.7 L185.8,222.7 L186.1,222.8 L186.5,222.1 L186.8,221.4 L187.2,225.1 L187.6,223.4 L188.0,222.6 L188.2,224.1 L188.5,223.0 L188.7,221.4 L189.0,223.1 L189.2,222.2 L189.5,223.8 L189.8,224.5 L190.0,224.9 L190.3,225.7 L190.6,223.7 L190.9,223.2 L191.1,222.3 L191.4,222.6 L191.7,223.8 L192.0,223.3 L192.3,221.9 L192.6,223.5 L192.9,223.9 L193.2,225.9 L193.6,222.6 L193.9,224.3 L194.2,222.1 L194.5,224.0 L194.8,226.5 L195.1,222.9 L195.4,225.8 L195.8,222.4 L196.1,225.1 L196.4,222.8 L196.7,224.5 L197.0,224.8 L197.3,225.5 L197.7,224.4 L198.0,224.4 L198.3,224.2 L198.6,225.8 L198.9,224.3 L199.2,225.3 L199.5,225.6 L199.8,226.4 L200.2,227.8 L200.5,225.3 L200.8,227.9 L201.0,223.4 L201.3,224.2 L201.6,226.1 L201.9,226.2 L202.2,226.5 L202.5,226.7 L202.9,224.2 L203.2,226.9 L203.5,226.3 L203.9,222.5 L204.2,224.6 L204.6,226.0 L204.9,227.3 L205.2,227.3 L205.6,226.0 L206.0,228.1 L206.3,224.8 L206.7,225.6 L207.0,227.2 L207.4,224.4 L207.7,227.7 L208.1,227.8 L208.4,226.4 L208.8,226.9 L209.1,226.3 L209.4,226.2 L209.8,228.0 L210.1,227.8 L210.4,226.0 L210.7,225.3 L211.1,227.7 L211.4,223.4 L211.7,225.2 L212.0,226.9 L212.2,227.0 L212.5,228.2 L212.8,227.2 L213.0,232.7 L213.3,228.3 L213.5,228.2 L213.8,228.1 L214.0,226.8 L214.2,227.7 L214.4,227.8 L214.6,227.9 L214.7,225.9 L214.9,225.3" fill="none" stroke="#000" stroke-width="0.9" stroke-linejoin="round" stroke-linecap="round" />
<path d="M105.5,218.7 L105.7,219.2 L105.9,219.1 L106.2,218.7 L106.5,217.7 L106.8,217.6 L107.1,219.0 L107.4,218.5 L107.7,217.2 L108.1,218.2 L108.4,218.3 L108.8,218.4 L109.2,218.4 L109.6,218.6 L110.0,218.1 L110.5,218.8 L110.9,218.3 L111.3,217.8 L111.8,217.5 L112.2,217.4 L112.7,219.1 L113.1,218.4 L113.6,218.4 L114.1,218.7 L114.5,219.2 L115.0,219.1 L115.5,219.4 L116.0,219.5 L116.4,219.4 L116.9,218.0 L117.4,219.4 L117.8,218.5 L118.3,219.3 L118.7,218.9 L119.1,219.7 L119.6,219.6 L120.0,218.0 L120.4,218.4 L120.8,219.7 L121.2,220.8 L121.6,219.8 L122.0,219.5 L122.4,220.1 L122.7,221.1 L123.1,219.7 L123.5,219.6 L124.0,220.1 L124.4,219.5 L124.8,219.3 L125.2,220.0 L125.6,221.0 L126.0,220.4 L126.4,219.8 L126.8,219.6 L127.2,220.1 L127.6,219.5 L128.0,219.2 L128.4,218.9 L128.8,220.3 L129.2,219.9 L129.6,219.6 L130.0,219.9 L130.4,220.9 L130.9,221.2 L131.3,221.2 L131.7,220.4 L132.1,220.8 L132.5,220.0 L132.9,221.0 L133.3,221.4 L133.7,221.8 L134.0,222.5 L134.4,222.5 L134.8,221.9 L135.2,221.4 L135.6,220.9 L136.0,220.9 L136.4,220.2 L136.9,220.1 L137.3,220.0 L137.7,219.2 L138.1,219.1 L138.5,219.1 L139.0,220.5 L139.4,221.6 L139.8,220.5 L140.2,220.5 L140.7,219.8 L141.1,221.0 L141.5,220.5 L141.9,220.3 L142.3,219.9 L142.7,219.2 L143.1,218.9 L143.6,219.1 L144.0,219.1 L144.4,219.5 L144.8,219.8 L145.2,219.8 L145.6,220.5 L146.0,219.6 L146.4,220.2 L146.7,219.6 L147.1,219.7 L147.5,219.3 L147.9,220.4 L148.2,219.3 L148.6,220.7 L149.0,219.3 L149.3,219.8 L149.7,218.7 L150.0,220.4 L150.5,219.8 L151.0,219.7 L151.4,217.9 L151.9,219.1 L152.3,218.2 L152.8,219.4 L153.2,218.2 L153.6,218.0 L154.0,217.2 L154.5,218.2 L154.9,217.9 L155.3,219.0 L155.7,218.9 L156.0,219.6 L156.4,219.5 L156.8,218.2 L157.2,218.0 L157.5,217.1 L157.9,216.2 L158.3,216.3 L158.6,217.7 L159.0,217.6 L159.3,218.4 L159.7,217.2 L160.0,217.2 L160.5,217.8 L161.0,216.9 L161.4,216.4 L161.9,217.4 L162.3,216.9 L162.7,216.9 L163.1,216.6 L163.6,217.5 L163.9,218.5 L164.3,217.3 L164.7,216.6 L165.1,216.5 L165.5,217.2 L165.9,217.1 L166.2,216.8 L166.6,218.0 L167.0,217.9 L167.4,218.2 L167.8,218.3 L168.2,218.0 L168.6,216.8 L169.0,215.8 L169.4,216.6 L169.8,216.0 L170.2,216.1 L170.6,217.4 L171.0,218.1 L171.4,218.9 L171.8,220.0 L172.2,219.2 L172.6,218.4 L173.0,217.8 L173.4,218.1 L173.7,217.3 L174.1,217.9 L174.5,218.4 L174.8,219.1 L175.2,219.1 L175.6,219.3 L176.0,220.1 L176.4,220.5 L176.8,220.0 L177.2,220.6 L177.6,219.3 L178.0,220.0 L178.4,220.0 L178.8,220.7 L179.2,220.7 L179.6,220.0 L180.0,221.3 L180.4,220.4 L180.7,221.7 L181.1,220.3 L181.4,219.4 L181.8,220.6 L182.1,221.3 L182.5,222.0 L182.8,221.5 L183.2,220.5 L183.5,220.3 L183.9,221.4 L184.3,221.1 L184.7,221.3 L185.1,221.3 L185.5,221.3 L186.0,221.1 L186.5,222.4 L186.9,222.2 L187.5,222.3 L188.0,223.1 L188.3,223.6 L188.6,223.6 L189.0,223.6 L189.3,223.7 L189.7,223.0 L190.0,223.0 L190.4,222.8 L190.8,222.1 L191.1,223.0 L191.5,223.2 L191.9,223.7 L192.3,222.6 L192.7,223.6 L193.1,223.6 L193.6,223.7 L194.0,223.9 L194.4,223.4 L194.8,223.4 L195.2,224.1 L195.7,223.5 L196.1,223.9 L196.5,224.3 L196.9,223.5 L197.3,224.8 L197.8,224.3 L198.2,224.7 L198.6,224.9 L199.0,224.4 L199.4,224.3 L199.8,224.9 L200.3,224.3 L200.7,223.8 L201.0,224.3 L201.4,225.6 L201.8,226.0 L202.2,226.8 L202.6,225.6 L203.1,224.9 L203.5,225.0 L203.9,225.1 L204.4,226.5 L204.9,226.3 L205.3,226.2 L205.8,225.8 L206.2,225.8 L206.7,225.8 L207.2,226.7 L207.6,227.8 L208.1,227.5 L208.5,227.7 L209.0,226.4 L209.4,226.5 L209.9,225.7 L210.3,226.6 L210.7,226.8 L211.1,226.8 L211.5,226.5 L211.9,226.6 L212.3,226.5 L212.7,225.8 L213.0,226.6 L213.3,226.6 L213.6,227.7 L213.9,228.0 L214.2,226.8 L214.5,226.4 L214.7,227.0 L214.9,227.3" fill="none" stroke="#000" stroke-width="3.9" stroke-linejoin="round" stroke-linecap="round" stroke-opacity="0.92"/>
<line x1="116.6" y1="205.5" x2="116.6" y2="218" stroke="#222" stroke-width="1.1" />
<line x1="110.7" y1="210.2" x2="110.7" y2="218" stroke="#222" stroke-width="0.9" />
<line x1="107.6" y1="212" x2="107.6" y2="218" stroke="#222" stroke-width="0.7" />
<line x1="125.3" y1="214" x2="125.3" y2="218" stroke="#333" stroke-width="0.7" />
<line x1="131" y1="214" x2="131" y2="219" stroke="#333" stroke-width="0.7" />
<line x1="153" y1="214" x2="153" y2="218" stroke="#333" stroke-width="0.7" />
<path d="M105.6,282.6 L105.8,280.9 L105.9,282.2 L106.1,281.2 L106.3,279.0 L106.5,283.5 L106.8,281.0 L107.0,282.5 L107.3,285.1 L107.5,282.4 L107.8,280.0 L108.1,281.1 L108.4,283.8 L108.7,279.1 L109.0,282.1 L109.3,283.0 L109.6,280.5 L109.9,282.2 L110.3,282.7 L110.6,280.5 L111.0,281.2 L111.3,284.1 L111.6,280.8 L112.0,280.5 L112.3,284.3 L112.7,282.8 L113.0,279.9 L113.4,282.9 L113.7,287.2 L114.1,281.9 L114.4,285.2 L114.7,284.5 L115.1,283.3 L115.4,284.1 L115.7,281.5 L116.0,286.5 L116.3,287.3 L116.6,282.7 L116.9,283.5 L117.2,283.9 L117.5,282.5 L117.8,284.5 L118.1,282.9 L118.4,285.5 L118.8,282.9 L119.1,283.7 L119.4,286.0 L119.7,286.9 L120.0,283.3 L120.3,284.6 L120.6,284.5 L120.8,283.5 L121.1,287.6 L121.4,284.0 L121.7,283.4 L122.0,285.6 L122.3,284.6 L122.6,287.9 L122.9,285.5 L123.2,288.3 L123.5,284.3 L123.8,283.4 L124.1,287.1 L124.4,283.0 L124.6,285.8 L124.9,283.1 L125.2,284.9 L125.5,286.5 L125.8,284.8 L126.1,283.1 L126.4,284.1 L126.7,287.4 L127.0,285.9 L127.3,286.0 L127.6,285.1 L127.9,285.4 L128.2,284.6 L128.6,284.4 L128.9,287.4 L129.2,286.3 L129.5,282.9 L129.8,285.2 L130.2,286.7 L130.5,288.5 L130.8,283.0 L131.1,285.7 L131.5,287.7 L131.8,288.1 L132.1,285.6 L132.4,288.0 L132.7,285.3 L133.0,286.2 L133.4,285.7 L133.7,287.0 L134.0,286.6 L134.3,287.2 L134.6,287.5 L134.9,289.3 L135.2,288.9 L135.5,284.9 L135.7,284.0 L136.0,286.0 L136.3,286.2 L136.6,284.3 L136.8,287.0 L137.1,286.3 L137.5,287.9 L137.8,284.9 L138.2,286.7 L138.5,287.5 L138.8,285.3 L139.2,284.2 L139.5,284.0 L139.8,285.3 L140.1,287.7 L140.4,285.0 L140.7,284.7 L141.0,283.2 L141.3,286.9 L141.6,285.7 L141.9,285.7 L142.1,284.3 L142.4,285.6 L142.7,283.0 L143.0,283.4 L143.2,281.3 L143.5,281.2 L143.7,284.6 L144.0,286.0 L144.3,280.5 L144.6,283.7 L144.9,284.6 L145.2,288.2 L145.5,281.5 L145.7,282.7 L146.0,282.3 L146.2,285.0 L146.5,284.6 L146.7,282.3 L147.0,285.8 L147.2,287.4 L147.5,282.8 L147.7,283.7 L148.0,282.5 L148.2,281.2 L148.5,280.1 L148.7,280.2 L149.0,279.0 L149.2,281.0 L149.5,282.3 L149.7,279.0 L150.0,279.2 L150.2,278.6 L150.5,280.3 L150.7,279.0 L150.9,280.1 L151.2,278.1 L151.4,276.9 L151.7,279.8 L151.9,278.0 L152.2,280.4 L152.4,279.2 L152.6,273.3 L152.9,274.3 L153.1,277.7 L153.3,276.2 L153.6,273.4 L153.8,275.6 L154.0,279.0 L154.2,278.9 L154.5,275.2 L154.7,276.6 L154.9,278.7 L155.1,276.6 L155.4,278.1 L155.6,273.9 L155.8,278.6 L156.0,277.7 L156.2,276.2 L156.4,274.6 L156.7,274.1 L156.9,273.5 L157.1,276.8 L157.3,276.8 L157.5,276.0 L157.7,275.4 L157.8,274.4 L158.0,272.6 L158.2,271.4 L158.4,269.7 L158.5,274.2 L158.7,271.2 L158.8,273.4 L159.0,270.5 L159.1,273.2 L159.2,273.3 L159.4,272.6 L159.5,271.7 L159.6,268.8 L159.7,268.5 L159.8,269.0 L160.0,271.3 L160.1,272.4 L160.2,267.6 L160.3,273.2 L160.5,266.8 L160.6,265.1 L160.7,267.8 L160.9,268.9 L161.0,266.6 L161.1,265.0 L161.3,268.7 L161.4,264.6 L161.6,267.9 L161.7,266.1 L161.9,264.9 L162.0,265.4 L162.2,263.6 L162.3,262.7 L162.5,264.9 L162.6,262.5 L162.8,262.3 L162.9,265.7 L163.1,266.2 L163.2,265.0 L163.4,264.4 L163.5,262.2 L163.7,262.2 L163.8,260.6 L163.9,257.1 L164.1,261.2 L164.2,260.3 L164.3,261.8 L164.5,259.2 L164.6,262.0 L164.7,258.7 L164.9,257.4 L165.0,258.6 L165.1,260.8 L165.2,259.1 L165.3,259.0 L165.4,255.6 L165.5,257.5 L165.6,258.8 L165.8,256.2 L165.9,257.7 L166.0,254.0 L166.1,256.6 L166.2,254.2 L166.4,256.4 L166.5,255.3 L166.7,253.7 L166.8,255.1 L167.0,252.1 L167.2,253.3 L167.4,252.3 L167.6,254.5 L167.8,251.7 L168.0,254.7 L168.2,253.8 L168.4,254.2 L168.6,250.8 L168.7,249.4 L168.9,251.2 L169.1,254.7 L169.3,249.4 L169.5,253.5 L169.7,254.0 L169.9,250.6 L170.2,251.2 L170.4,253.9 L170.6,252.4 L170.8,252.0 L171.1,251.5 L171.3,253.0 L171.5,253.3 L171.7,255.7 L171.9,254.2 L172.1,255.8 L172.3,254.1 L172.4,258.4 L172.5,254.8 L172.7,255.2 L172.8,254.7 L172.9,253.3 L173.0,253.7 L173.1,256.3 L173.2,255.3 L173.3,257.5 L173.4,254.7 L173.5,255.4 L173.6,258.2 L173.7,258.6 L173.8,256.3 L173.9,260.8 L174.1,261.2 L174.2,259.6 L174.3,258.0 L174.5,263.2 L174.6,261.1 L174.6,261.2 L174.7,262.3 L174.8,260.3 L174.9,264.1 L174.9,260.6 L175.0,262.5 L175.1,261.7 L175.2,264.4 L175.3,263.6 L175.3,264.3 L175.4,262.1 L175.5,262.4 L175.6,261.8 L175.7,264.9 L175.8,262.8 L175.9,266.7 L175.9,265.0 L176.0,263.9 L176.1,265.5 L176.2,267.5 L176.3,265.0 L176.4,267.0 L176.5,264.4 L176.6,268.1 L176.7,268.4 L176.8,267.9 L176.9,268.9 L177.0,266.1 L177.1,264.8 L177.2,266.8 L177.3,270.0 L177.3,269.2 L177.4,271.5 L177.5,269.6 L177.6,272.2 L177.7,269.3 L177.8,272.3 L177.9,269.1 L178.0,270.0 L178.1,272.6 L178.2,273.8 L178.3,272.6 L178.4,272.1 L178.5,274.5 L178.6,274.4 L178.7,272.6 L178.7,273.4 L178.8,272.8 L178.9,276.2 L179.0,275.6 L179.1,275.6 L179.2,275.2 L179.3,275.0 L179.4,277.9 L179.5,277.2 L179.6,273.6 L179.7,275.7 L179.7,276.8 L179.8,276.4 L179.9,276.9 L180.0,277.6 L180.1,279.1 L180.2,277.6 L180.3,280.7 L180.4,281.5 L180.5,280.3 L180.6,282.1 L180.7,280.9 L180.8,282.3 L180.9,281.4 L181.0,284.3 L181.1,280.6 L181.2,284.2 L181.3,281.7 L181.3,282.8 L181.4,285.1 L181.5,283.5 L181.6,282.5 L181.7,283.3 L181.8,284.9 L181.9,285.5 L182.0,286.1 L182.1,284.2 L182.1,284.5 L182.2,286.7 L182.3,286.8 L182.4,283.9 L182.5,284.7 L182.6,287.6 L182.6,289.0 L182.7,287.0 L182.8,284.4 L183.0,289.3 L183.1,288.2 L183.2,289.6 L183.4,285.2 L183.5,287.0 L183.6,287.5 L183.8,289.8 L183.9,288.4 L184.0,287.1 L184.1,287.6 L184.2,290.2 L184.3,291.2 L184.4,291.5 L184.6,288.3 L184.7,290.7 L184.8,292.5 L184.9,293.7 L185.1,292.7 L185.2,291.7 L185.3,288.5 L185.5,294.5 L185.7,292.8 L185.8,292.8 L186.0,292.9 L186.2,294.5 L186.3,293.9 L186.5,293.8 L186.7,293.0 L186.8,295.6 L187.0,296.3 L187.2,294.7 L187.4,294.8 L187.6,294.2 L187.7,295.5 L187.9,299.1 L188.1,296.7 L188.3,300.2 L188.5,295.4 L188.7,295.5 L188.9,296.4 L189.1,296.9 L189.4,298.3 L189.6,300.2 L189.8,296.8 L190.0,299.0 L190.3,300.6 L190.5,301.8 L190.7,299.0 L191.0,300.8 L191.2,300.6 L191.5,298.8 L191.7,300.2 L191.9,299.2 L192.1,297.6 L192.3,297.7 L192.5,300.9 L192.7,301.7 L192.9,300.9 L193.1,298.8 L193.3,303.7 L193.5,302.6 L193.7,304.9 L193.9,302.9 L194.1,299.9 L194.3,301.4 L194.5,300.9 L194.7,304.1 L195.0,298.9 L195.2,302.2 L195.4,303.0 L195.6,300.4 L195.9,304.7 L196.1,305.6 L196.4,305.9 L196.6,305.4 L196.9,303.7 L197.1,306.3 L197.4,305.8 L197.7,306.1 L197.9,305.5 L198.2,305.2 L198.5,305.0 L198.8,304.0 L199.1,306.1 L199.4,305.6 L199.7,306.5 L200.0,306.4 L200.2,305.7 L200.5,309.2 L200.7,309.8 L201.0,308.5 L201.2,307.7 L201.5,306.0 L201.8,306.9 L202.1,306.5 L202.4,307.8 L202.7,307.4 L203.0,308.2 L203.3,308.2 L203.6,307.6 L203.9,307.5 L204.3,307.0 L204.6,306.5 L204.9,308.9 L205.3,310.7 L205.6,307.0 L205.9,310.0 L206.3,309.3 L206.6,310.9 L206.9,312.9 L207.3,311.7 L207.6,310.1 L207.9,310.3 L208.3,312.2 L208.6,309.4 L208.9,308.1 L209.3,310.3 L209.6,312.5 L209.9,308.8 L210.2,312.4 L210.5,312.7 L210.8,310.8 L211.1,309.3 L211.4,308.3 L211.7,309.4 L212.0,310.9 L212.2,312.2 L212.5,310.5 L212.7,309.9 L213.0,310.2 L213.2,315.9 L213.4,309.3 L213.6,309.2 L213.8,313.3 L214.0,309.4 L214.2,312.7 L214.4,310.4 L214.5,313.8" fill="none" stroke="#f8262a" stroke-width="0.9" stroke-linejoin="round" stroke-linecap="round" />
<path d="M105.6,282.1 L105.8,281.7 L106.1,282.5 L106.3,281.6 L106.6,282.2 L107.0,282.6 L107.3,282.9 L107.7,282.3 L108.0,281.9 L108.4,281.5 L108.9,281.6 L109.3,281.6 L109.7,280.6 L110.2,280.6 L110.6,281.1 L111.1,282.2 L111.5,283.5 L112.0,283.0 L112.5,282.8 L113.0,282.1 L113.4,282.7 L113.9,283.3 L114.4,282.6 L114.8,283.4 L115.2,283.4 L115.7,283.9 L116.1,284.6 L116.5,283.6 L116.9,282.5 L117.3,282.6 L117.7,283.2 L118.2,283.4 L118.6,284.0 L119.0,284.3 L119.4,284.7 L119.8,284.8 L120.2,283.8 L120.6,284.8 L121.0,284.9 L121.4,284.5 L121.8,284.1 L122.2,284.2 L122.6,284.5 L123.0,285.6 L123.4,284.9 L123.8,284.4 L124.2,283.5 L124.6,284.0 L125.0,283.9 L125.4,285.7 L125.8,285.4 L126.2,285.6 L126.6,284.9 L127.0,284.8 L127.4,285.9 L127.8,286.0 L128.2,286.7 L128.7,287.0 L129.1,285.2 L129.5,285.6 L129.9,286.4 L130.3,286.1 L130.8,286.7 L131.2,286.6 L131.6,285.2 L132.0,285.3 L132.5,286.6 L132.9,287.6 L133.3,286.5 L133.7,286.6 L134.1,284.8 L134.5,285.4 L134.9,285.7 L135.3,287.3 L135.7,286.7 L136.0,286.6 L136.4,286.2 L136.8,286.3 L137.1,286.7 L137.6,286.0 L138.1,285.9 L138.5,285.6 L139.0,285.2 L139.4,286.6 L139.8,285.9 L140.3,286.1 L140.7,286.8 L141.1,285.9 L141.5,285.8 L141.8,284.9 L142.2,285.4 L142.6,284.9 L142.9,285.4 L143.3,285.1 L143.6,284.7 L144.0,283.4 L144.4,283.6 L144.8,283.4 L145.2,283.8 L145.6,284.1 L145.9,283.4 L146.3,283.7 L146.6,283.1 L147.0,282.5 L147.3,282.0 L147.6,281.5 L148.0,280.6 L148.3,281.4 L148.6,281.0 L149.0,281.1 L149.3,281.4 L149.7,280.3 L150.0,280.6 L150.4,279.9 L150.7,279.7 L151.0,279.2 L151.4,278.6 L151.7,278.6 L152.1,277.5 L152.4,278.7 L152.7,278.2 L153.1,277.4 L153.4,277.7 L153.7,278.1 L154.0,277.1 L154.3,276.7 L154.6,276.5 L154.9,276.7 L155.2,277.0 L155.5,276.1 L155.8,276.2 L156.1,277.1 L156.4,276.5 L156.7,274.9 L156.9,272.5 L157.2,272.1 L157.5,273.3 L157.7,273.7 L158.0,274.5 L158.2,274.4 L158.4,273.5 L158.6,272.7 L158.8,273.0 L159.0,272.7 L159.2,271.9 L159.3,271.6 L159.5,271.8 L159.7,271.6 L159.8,270.1 L160.0,270.4 L160.1,269.9 L160.3,268.9 L160.5,267.4 L160.6,265.1 L160.8,267.6 L161.0,268.1 L161.2,266.9 L161.4,265.9 L161.6,266.5 L161.8,265.9 L162.0,264.6 L162.2,262.6 L162.4,262.5 L162.6,262.3 L162.8,262.8 L163.0,262.7 L163.3,262.1 L163.5,263.0 L163.6,261.9 L163.8,261.7 L164.0,260.0 L164.2,260.7 L164.4,259.8 L164.6,258.8 L164.7,258.4 L164.9,259.3 L165.1,259.9 L165.2,258.6 L165.4,258.2 L165.5,257.9 L165.7,257.3 L165.8,257.4 L166.0,257.1 L166.1,256.7 L166.3,256.0 L166.5,254.4 L166.7,254.8 L167.0,253.4 L167.2,254.9 L167.5,254.1 L167.7,254.5 L168.0,254.2 L168.2,253.7 L168.5,252.9 L168.7,252.0 L169.0,251.8 L169.3,250.3 L169.5,250.0 L169.8,250.0 L170.1,251.2 L170.4,251.1 L170.7,253.6 L170.9,253.0 L171.2,253.1 L171.5,252.7 L171.8,253.0 L172.0,253.6 L172.3,254.9 L172.5,255.9 L172.6,255.2 L172.8,255.5 L172.9,254.7 L173.1,255.5 L173.2,255.7 L173.3,256.5 L173.5,257.1 L173.6,257.9 L173.8,258.2 L173.9,259.0 L174.1,259.0 L174.3,260.3 L174.5,259.6 L174.6,261.0 L174.7,260.2 L174.8,259.9 L174.9,258.5 L175.0,260.7 L175.1,261.0 L175.2,263.1 L175.3,263.2 L175.4,262.2 L175.5,263.5 L175.7,263.6 L175.8,264.6 L175.9,264.5 L176.0,264.1 L176.1,266.3 L176.3,265.5 L176.4,266.3 L176.5,266.1 L176.6,267.2 L176.7,268.3 L176.9,267.7 L177.0,267.0 L177.1,269.3 L177.3,268.5 L177.4,269.4 L177.5,270.2 L177.6,270.1 L177.8,269.7 L177.9,271.2 L178.0,272.0 L178.1,272.1 L178.3,271.1 L178.4,272.3 L178.5,272.0 L178.6,273.7 L178.7,274.7 L178.9,274.3 L179.0,273.8 L179.1,275.0 L179.2,274.2 L179.3,275.3 L179.5,276.0 L179.6,277.6 L179.7,278.5 L179.8,277.7 L180.0,278.9 L180.1,279.5 L180.2,279.6 L180.3,278.7 L180.5,279.1 L180.6,278.6 L180.7,279.8 L180.8,279.6 L181.0,280.6 L181.1,280.3 L181.2,281.5 L181.3,282.5 L181.4,282.5 L181.6,283.1 L181.7,284.8 L181.8,284.5 L181.9,284.9 L182.0,284.2 L182.1,284.7 L182.3,285.4 L182.4,285.6 L182.5,285.9 L182.6,285.8 L182.7,286.7 L182.8,286.3 L183.0,286.6 L183.2,287.8 L183.4,288.1 L183.5,289.3 L183.7,289.0 L183.9,289.4 L184.0,290.0 L184.2,290.4 L184.3,290.6 L184.5,290.6 L184.6,291.7 L184.8,291.1 L185.0,291.5 L185.2,292.7 L185.3,293.8 L185.6,294.3 L185.8,293.5 L186.0,293.3 L186.2,293.4 L186.4,294.0 L186.7,293.7 L186.9,293.5 L187.1,294.1 L187.4,295.6 L187.6,294.8 L187.9,295.8 L188.2,296.3 L188.4,296.4 L188.7,295.9 L189.0,295.6 L189.3,296.3 L189.6,297.8 L189.9,298.4 L190.2,298.4 L190.5,298.5 L190.8,299.4 L191.2,299.5 L191.5,300.4 L191.8,300.9 L192.0,300.8 L192.3,300.5 L192.5,300.4 L192.8,301.1 L193.1,301.7 L193.3,301.5 L193.6,300.8 L193.9,301.1 L194.2,301.0 L194.5,302.3 L194.7,301.9 L195.0,302.7 L195.3,302.5 L195.6,301.8 L196.0,303.5 L196.3,304.4 L196.6,303.8 L196.9,305.1 L197.3,304.9 L197.7,304.6 L198.0,304.5 L198.4,304.7 L198.8,304.7 L199.2,305.6 L199.6,306.7 L200.0,307.7 L200.3,307.2 L200.6,307.9 L201.0,306.9 L201.3,308.2 L201.7,308.6 L202.1,307.6 L202.5,307.8 L202.9,307.4 L203.3,309.4 L203.8,307.7 L204.2,307.9 L204.6,306.8 L205.1,308.2 L205.5,308.1 L206.0,309.8 L206.4,309.5 L206.9,309.1 L207.3,309.1 L207.8,308.9 L208.2,309.6 L208.7,308.7 L209.1,310.1 L209.5,309.7 L210.0,308.9 L210.4,310.3 L210.8,309.8 L211.2,310.4 L211.6,310.9 L211.9,310.9 L212.3,311.2 L212.6,311.7 L213.0,311.7 L213.3,312.0 L213.6,311.6 L213.8,310.7 L214.1,311.4 L214.3,311.7 L214.5,312.9" fill="none" stroke="#f8262a" stroke-width="4.1" stroke-linejoin="round" stroke-linecap="round" stroke-opacity="0.92"/>
<text x="202.6" y="212.9" font-family='"Liberation Sans", sans-serif' font-size="6.6" fill="#222" text-anchor="middle" textLength="17.7" lengthAdjust="spacingAndGlyphs" >295 K</text>
<text x="200.7" y="291.9" font-family='"Liberation Sans", sans-serif' font-size="6.5" fill="#f22a2a" text-anchor="middle" textLength="16.7" lengthAdjust="spacingAndGlyphs" font-weight="bold">110 K</text>
<text x="256" y="184.3" font-family='"Liberation Serif", serif' font-size="16" fill="#000" text-anchor="start" >2</text>
<line x1="281.0" y1="178.4" x2="281.0" y2="335.0" stroke="#333" stroke-width="1.3" />
<line x1="281.0" y1="335.0" x2="390.8" y2="335.0" stroke="#222" stroke-width="1.3" />
<line x1="281.0" y1="335.0" x2="281.0" y2="332.8" stroke="#222" stroke-width="1" />
<text x="281.0" y="344" font-family='"Liberation Sans", sans-serif' font-size="7.0" fill="#111" text-anchor="middle" textLength="12.2" lengthAdjust="spacingAndGlyphs" >860</text>
<line x1="308.45" y1="335.0" x2="308.45" y2="332.8" stroke="#222" stroke-width="1" />
<text x="308.45" y="344" font-family='"Liberation Sans", sans-serif' font-size="7.0" fill="#111" text-anchor="middle" textLength="12.2" lengthAdjust="spacingAndGlyphs" >870</text>
<line x1="335.9" y1="335.0" x2="335.9" y2="332.8" stroke="#222" stroke-width="1" />
<text x="335.9" y="344" font-family='"Liberation Sans", sans-serif' font-size="7.0" fill="#111" text-anchor="middle" textLength="12.2" lengthAdjust="spacingAndGlyphs" >880</text>
<line x1="363.35" y1="335.0" x2="363.35" y2="332.8" stroke="#222" stroke-width="1" />
<text x="363.35" y="344" font-family='"Liberation Sans", sans-serif' font-size="7.0" fill="#111" text-anchor="middle" textLength="12.2" lengthAdjust="spacingAndGlyphs" >890</text>
<line x1="390.8" y1="335.0" x2="390.8" y2="332.8" stroke="#222" stroke-width="1" />
<text x="390.8" y="344" font-family='"Liberation Sans", sans-serif' font-size="7.0" fill="#111" text-anchor="middle" textLength="12.2" lengthAdjust="spacingAndGlyphs" >900</text>
<line x1="294.725" y1="335.0" x2="294.725" y2="333.4" stroke="#222" stroke-width="0.9" />
<line x1="322.175" y1="335.0" x2="322.175" y2="333.4" stroke="#222" stroke-width="0.9" />
<line x1="349.625" y1="335.0" x2="349.625" y2="333.4" stroke="#222" stroke-width="0.9" />
<line x1="377.07500000000005" y1="335.0" x2="377.07500000000005" y2="333.4" stroke="#222" stroke-width="0.9" />
<text x="0" y="0" transform="translate(269.8,258.1) rotate(-90)" font-family='"Liberation Sans", sans-serif' font-size="9.9" fill="#222" text-anchor="middle" dominant-baseline="central" textLength="63.3" lengthAdjust="spacingAndGlyphs" stroke="#222" stroke-width="0.1">Intensity (a.u.)</text>
<path d="M281.5,322.7 L281.9,323.0 L282.4,323.0 L282.9,322.8 L283.4,322.9 L284.1,322.5 L284.8,322.1 L285.5,322.3 L286.2,322.3 L287.0,322.1 L287.8,321.8 L288.6,321.4 L289.4,322.1 L290.2,321.5 L291.1,321.5 L291.9,321.2 L292.7,321.0 L293.5,321.2 L294.3,321.1 L295.0,320.6 L295.7,320.6 L296.4,320.5 L297.1,320.3 L297.8,320.2 L298.6,320.3 L299.3,319.8 L300.1,320.5 L300.8,319.7 L301.5,319.8 L302.3,320.1 L303.0,319.6 L303.7,319.6 L304.4,319.6 L305.1,319.7 L305.8,319.1 L306.5,319.4 L307.1,318.8 L307.7,319.3 L308.3,319.0 L308.9,318.8 L309.8,318.4 L310.6,318.6 L311.4,318.3 L312.1,318.2 L312.8,317.5 L313.5,317.5 L314.1,317.4 L314.8,317.2 L315.4,316.6 L316.0,316.4 L316.7,316.5 L317.4,316.1 L318.1,316.0 L318.7,315.5 L319.4,315.5 L320.0,315.0 L320.7,314.7 L321.4,314.4 L322.0,314.5 L322.7,313.8 L323.4,313.5 L324.0,313.4 L324.7,313.4 L325.3,313.2 L326.0,312.9 L326.7,312.7 L327.4,312.2 L328.2,311.9 L328.9,312.0 L329.6,311.4 L330.3,311.2 L331.0,310.7 L331.7,310.8 L332.4,310.2 L333.1,310.2 L333.7,310.0 L334.3,309.8 L335.1,309.8 L335.9,309.6 L336.6,309.5 L337.3,309.2 L338.0,309.0 L338.6,309.0 L339.3,309.0 L340.0,308.9 L340.7,309.5 L341.5,309.1 L342.2,309.7 L342.9,309.7 L343.7,309.7 L344.4,310.7 L345.2,310.6 L346.0,310.8 L346.6,311.7 L347.3,311.5 L348.0,312.0 L348.7,312.6 L349.4,312.5 L350.1,312.8 L350.8,313.6 L351.4,313.9 L352.1,314.0 L352.7,314.2 L353.4,314.6 L354.1,315.4 L354.8,315.9 L355.4,316.3 L356.1,316.5 L356.7,316.9 L357.3,316.7 L358.0,317.5 L358.7,317.7 L359.3,318.4 L360.0,318.4 L360.6,318.8 L361.3,319.2 L362.0,319.5 L362.8,319.8 L363.6,320.4 L364.2,320.5 L364.8,320.5 L365.5,320.4 L366.2,321.1 L366.9,321.1 L367.7,321.1 L368.4,321.2 L369.1,321.2 L369.9,321.8 L370.6,322.0 L371.3,321.9 L372.0,322.0 L372.7,322.5 L373.5,322.3 L374.2,322.3 L374.9,322.3 L375.6,322.7 L376.3,322.7 L377.0,322.4 L377.7,322.2 L378.4,322.8 L379.2,322.9 L380.0,323.0 L380.7,323.0 L381.4,322.5 L382.2,323.2 L383.0,322.9 L383.8,323.3 L384.7,323.1 L385.5,323.0 L386.3,322.9 L387.1,323.1 L387.8,323.3 L388.5,323.2 L389.1,323.5 L389.6,323.3 L390.0,323.4" fill="none" stroke="#111" stroke-width="1.45" stroke-linejoin="round" stroke-linecap="round" />
<path d="M308.2,320.6 L308.6,320.6 L309.1,320.4 L309.8,320.1 L310.5,320.1 L311.2,319.4 L312.0,319.1 L312.6,318.7 L313.3,318.1 L314.0,318.1 L314.7,318.0 L315.4,317.4 L316.1,316.9 L316.8,316.3 L317.4,316.7 L318.0,315.5 L318.5,314.9 L319.0,314.2 L319.5,314.1 L320.0,313.4 L320.5,312.5 L321.0,311.9 L321.4,311.5 L321.8,310.8 L322.2,310.0 L322.6,309.7 L323.0,309.2 L323.5,308.2 L323.9,307.7 L324.3,307.4 L324.6,306.9 L325.0,306.2 L325.3,305.5 L325.7,305.1 L326.0,304.0 L326.3,303.5 L326.6,302.8 L326.8,302.5 L327.1,301.4 L327.4,300.8 L327.7,300.7 L328.0,299.4 L328.3,298.3 L328.5,298.5 L328.8,297.9 L329.0,296.7 L329.3,296.1 L329.5,295.5 L329.8,295.0 L330.0,294.6 L330.3,293.8 L330.5,292.3 L330.8,292.3 L331.0,290.8 L331.2,290.5 L331.3,289.8 L331.4,289.1 L331.6,288.2 L331.7,288.5 L331.9,287.2 L332.0,287.0 L332.1,285.7 L332.3,285.3 L332.4,284.3 L332.5,283.8 L332.7,283.2 L332.8,281.9 L332.9,281.3 L333.1,280.7 L333.2,280.1 L333.4,279.2 L333.5,277.9 L333.6,277.1 L333.7,276.7 L333.8,276.4 L333.9,275.8 L334.0,274.4 L334.1,273.5 L334.3,273.2 L334.4,272.7 L334.5,272.3 L334.6,270.9 L334.7,270.4 L334.8,270.0 L334.9,268.7 L335.1,268.4 L335.2,267.9 L335.3,267.0 L335.4,266.5 L335.5,265.1 L335.6,264.0 L335.7,264.2 L335.8,263.3 L335.9,262.8 L336.0,261.7 L336.1,260.7 L336.2,260.2 L336.3,259.6 L336.4,258.9 L336.5,258.3 L336.7,257.5 L336.8,256.5 L336.9,255.3 L337.0,254.4 L337.1,254.3 L337.2,253.6 L337.3,252.7 L337.4,252.7 L337.5,251.4 L337.6,251.1 L337.7,250.4 L337.8,249.4 L337.9,249.3 L337.9,248.3 L338.0,247.6 L338.1,246.4 L338.2,245.8 L338.3,245.0 L338.3,244.6 L338.4,244.0 L338.5,243.6 L338.6,242.3 L338.6,242.2 L338.7,241.6 L338.7,241.1 L338.8,239.5 L338.9,239.7 L338.9,238.5 L339.0,238.2 L339.1,237.4 L339.1,236.6 L339.2,236.4 L339.2,235.6 L339.3,234.9 L339.4,233.8 L339.4,232.5 L339.5,232.3 L339.5,231.6 L339.6,231.3 L339.6,230.3 L339.7,229.4 L339.7,229.0 L339.8,227.9 L339.8,227.4 L339.9,226.8 L339.9,226.2 L340.0,225.4 L340.0,224.5 L340.0,224.1 L340.1,223.5 L340.1,222.7 L340.2,221.9 L340.2,220.9 L340.3,220.4 L340.3,219.2 L340.4,218.1 L340.4,217.8 L340.5,217.5 L340.5,215.9 L340.6,214.9 L340.6,215.3 L340.7,213.7 L340.7,213.6 L340.8,212.5 L340.8,212.3 L340.9,211.0 L340.9,210.4 L341.0,210.1 L341.1,209.1 L341.1,208.6 L341.2,208.0 L341.3,206.5 L341.4,205.7 L341.4,204.8 L341.5,203.8 L341.6,203.3 L341.7,202.1 L341.8,201.4 L341.8,200.8 L341.9,199.2 L342.0,198.7 L342.1,197.9 L342.2,197.1 L342.3,196.8 L342.3,195.9 L342.4,195.2 L342.5,194.4 L342.6,194.6 L342.7,192.7 L342.8,192.6 L342.8,192.7 L342.9,192.8 L343.0,192.1 L343.1,192.2 L343.3,192.0 L343.4,192.8 L343.6,193.4 L343.7,194.5 L343.9,195.3 L344.1,196.2 L344.2,197.5 L344.4,198.1 L344.5,199.6 L344.7,200.7 L344.8,201.1 L345.0,202.1 L345.1,202.2 L345.3,201.6 L345.5,201.7 L345.7,200.4 L345.9,199.9 L346.1,198.1 L346.3,197.2 L346.5,195.6 L346.7,195.4 L346.9,194.7 L347.1,194.6 L347.2,195.4 L347.3,195.7 L347.4,196.2 L347.5,196.3 L347.6,197.3 L347.7,197.3 L347.8,198.3 L347.9,199.5 L348.0,200.3 L348.1,201.2 L348.2,202.6 L348.3,203.8 L348.4,204.1 L348.5,205.4 L348.6,205.6 L348.7,206.1 L348.7,207.1 L348.8,207.5 L348.9,207.5 L349.0,208.5 L349.0,209.4 L349.1,209.2 L349.2,210.1 L349.3,211.0 L349.3,211.2 L349.4,212.0 L349.5,213.4 L349.6,214.3 L349.7,214.6 L349.8,215.4 L349.9,216.5 L350.0,217.1 L350.1,218.8 L350.1,219.4 L350.2,220.1 L350.3,221.1 L350.3,220.8 L350.4,222.0 L350.4,222.4 L350.5,222.9 L350.5,223.9 L350.6,224.4 L350.7,224.9 L350.7,226.1 L350.8,226.5 L350.9,227.5 L350.9,228.4 L351.0,229.1 L351.0,229.4 L351.1,230.8 L351.2,231.7 L351.2,231.9 L351.3,232.7 L351.4,233.1 L351.5,234.5 L351.5,235.0 L351.6,236.3 L351.6,237.2 L351.7,238.2 L351.8,238.6 L351.8,239.3 L351.9,240.4 L352.0,240.9 L352.0,241.9 L352.1,242.7 L352.2,242.9 L352.2,244.4 L352.3,244.7 L352.3,245.7 L352.4,246.4 L352.4,246.5 L352.5,246.8 L352.5,248.2 L352.6,248.8 L352.6,248.9 L352.7,249.5 L352.7,249.9 L352.8,251.5 L352.9,252.1 L353.0,253.4 L353.1,254.6 L353.1,255.2 L353.2,255.3 L353.2,256.7 L353.2,256.4 L353.3,257.2 L353.3,257.4 L353.3,258.1 L353.4,258.6 L353.4,259.4 L353.5,260.4 L353.6,260.4 L353.6,261.2 L353.7,262.2 L353.7,262.4 L353.8,263.6 L353.8,264.3 L353.9,265.0 L354.0,266.0 L354.0,266.9 L354.1,267.3 L354.1,267.9 L354.2,268.9 L354.3,269.1 L354.3,270.4 L354.4,271.3 L354.5,272.1 L354.6,273.1 L354.7,272.8 L354.7,273.9 L354.8,274.1 L354.9,275.2 L355.0,275.7 L355.1,276.9 L355.2,277.6 L355.3,277.7 L355.4,278.9 L355.5,279.7 L355.6,280.6 L355.7,280.6 L355.8,281.9 L355.9,282.3 L356.0,282.9 L356.1,283.9 L356.3,284.6 L356.4,285.2 L356.5,286.2 L356.7,287.1 L356.8,288.0 L356.9,288.2 L357.1,289.0 L357.2,289.0 L357.4,290.5 L357.6,290.3 L357.7,291.7 L357.9,292.6 L358.0,292.7 L358.2,293.6 L358.4,294.1 L358.6,295.6 L358.9,295.9 L359.1,297.0 L359.3,297.3 L359.6,298.2 L359.8,298.5 L360.1,299.0 L360.3,300.6 L360.5,301.4 L360.8,301.3 L361.0,301.9 L361.3,302.7 L361.6,303.7 L361.9,304.2 L362.1,305.4 L362.4,305.9 L362.7,306.7 L363.0,307.1 L363.3,308.1 L363.6,308.0 L364.1,308.5 L364.7,309.4 L365.2,310.0 L365.8,310.4 L366.4,310.5 L367.0,310.8 L367.6,311.3 L368.3,312.8 L369.0,311.9 L369.7,312.6 L370.3,313.2 L370.9,313.5 L371.6,314.4 L372.1,315.0 L372.5,315.4 L373.0,314.9 L373.7,314.5 L374.3,314.1 L375.0,314.0 L375.5,314.5 L376.0,315.1 L376.5,315.7 L377.0,316.7 L377.7,316.1 L378.5,316.0 L379.2,315.5 L379.8,315.8 L380.3,317.4 L381.0,317.4 L381.7,317.4 L382.4,316.8 L383.2,316.6 L384.0,316.5 L384.8,317.2 L385.5,317.4 L386.2,318.4 L387.0,318.4 L387.8,318.0 L388.7,318.3 L389.5,317.7 L390.0,318.5" fill="none" stroke="#f8282a" stroke-width="1.1" stroke-linejoin="round" stroke-linecap="round" />
<text x="367.2" y="227.9" font-family='"Liberation Sans", sans-serif' font-size="6.5" fill="#f22a2a" text-anchor="middle" textLength="17.2" lengthAdjust="spacingAndGlyphs" font-weight="bold">110 K</text>
<text x="337.7" y="322.8" font-family='"Liberation Sans", sans-serif' font-size="6.6" fill="#222" text-anchor="middle" textLength="17.3" lengthAdjust="spacingAndGlyphs" >295 K</text>
<text x="337.6" y="360.3" font-family='"Liberation Sans", sans-serif' font-size="10.1" fill="#222" text-anchor="middle" textLength="74.4" lengthAdjust="spacingAndGlyphs" stroke="#222" stroke-width="0.1">Wavelength (nm)</text>
<text x="8.8" y="366.6" font-family='"Liberation Serif", serif' font-size="17" fill="#000" text-anchor="start" textLength="19.2" lengthAdjust="spacingAndGlyphs" >(d)</text>
<text x="49.5" y="367.6" font-family='"Liberation Serif", serif' font-size="16" fill="#000" text-anchor="start" >1</text>
<line x1="60.9" y1="375.2" x2="234.8" y2="375.2" stroke="#333" stroke-width="1.1" />
<line x1="60.9" y1="514.8" x2="234.8" y2="514.8" stroke="#222" stroke-width="1.1" />
<line x1="60.9" y1="375.2" x2="60.9" y2="514.8" stroke="#444" stroke-width="1.1" />
<line x1="234.8" y1="375.2" x2="234.8" y2="514.8" stroke="#999" stroke-width="1.1" />
<rect x="144" y="370" width="7" height="9" fill="#fff"/><rect x="144" y="510" width="7" height="9" fill="#fff"/>
<line x1="144.7" y1="377.7" x2="148.0" y2="372.3" stroke="#222" stroke-width="1" />
<line x1="147.8" y1="377.7" x2="151.3" y2="372.3" stroke="#222" stroke-width="1" />
<line x1="144.7" y1="518" x2="148.0" y2="512" stroke="#222" stroke-width="1" />
<line x1="147.8" y1="518" x2="151.3" y2="512" stroke="#222" stroke-width="1" />
<line x1="60.9" y1="392.1" x2="62.699999999999996" y2="392.1" stroke="#333" stroke-width="0.9" />
<line x1="234.8" y1="392.1" x2="233.0" y2="392.1" stroke="#777" stroke-width="0.9" />
<line x1="60.9" y1="409.8" x2="62.699999999999996" y2="409.8" stroke="#333" stroke-width="0.9" />
<line x1="234.8" y1="409.8" x2="233.0" y2="409.8" stroke="#777" stroke-width="0.9" />
<line x1="60.9" y1="427.3" x2="62.699999999999996" y2="427.3" stroke="#333" stroke-width="0.9" />
<line x1="234.8" y1="427.3" x2="233.0" y2="427.3" stroke="#777" stroke-width="0.9" />
<line x1="60.9" y1="445" x2="62.699999999999996" y2="445" stroke="#333" stroke-width="0.9" />
<line x1="234.8" y1="445" x2="233.0" y2="445" stroke="#777" stroke-width="0.9" />
<line x1="60.9" y1="462.7" x2="62.699999999999996" y2="462.7" stroke="#333" stroke-width="0.9" />
<line x1="234.8" y1="462.7" x2="233.0" y2="462.7" stroke="#777" stroke-width="0.9" />
<line x1="60.9" y1="480.4" x2="62.699999999999996" y2="480.4" stroke="#333" stroke-width="0.9" />
<line x1="234.8" y1="480.4" x2="233.0" y2="480.4" stroke="#777" stroke-width="0.9" />
<line x1="60.9" y1="498" x2="62.699999999999996" y2="498" stroke="#333" stroke-width="0.9" />
<line x1="234.8" y1="498" x2="233.0" y2="498" stroke="#777" stroke-width="0.9" />
<line x1="60.9" y1="514.8" x2="60.9" y2="512.8" stroke="#222" stroke-width="1" />
<line x1="89.6" y1="514.8" x2="89.6" y2="512.8" stroke="#222" stroke-width="1" />
<line x1="117.8" y1="514.8" x2="117.8" y2="512.8" stroke="#222" stroke-width="1" />
<line x1="156.5" y1="514.8" x2="156.5" y2="512.8" stroke="#222" stroke-width="1" />
<line x1="194.9" y1="514.8" x2="194.9" y2="512.8" stroke="#222" stroke-width="1" />
<line x1="233.5" y1="514.8" x2="233.5" y2="512.8" stroke="#222" stroke-width="1" />
<line x1="75.3" y1="514.8" x2="75.3" y2="513.4" stroke="#222" stroke-width="0.9" />
<line x1="104" y1="514.8" x2="104" y2="513.4" stroke="#222" stroke-width="0.9" />
<line x1="132.7" y1="514.8" x2="132.7" y2="513.4" stroke="#222" stroke-width="0.9" />
<line x1="176.3" y1="514.8" x2="176.3" y2="513.4" stroke="#222" stroke-width="0.9" />
<line x1="213.8" y1="514.8" x2="213.8" y2="513.4" stroke="#222" stroke-width="0.9" />
<text x="60.5" y="524.8" font-family='"Liberation Sans", sans-serif' font-size="8.2" fill="#333" text-anchor="middle" >450</text>
<text x="89.5" y="524.8" font-family='"Liberation Sans", sans-serif' font-size="8.2" fill="#333" text-anchor="middle" >500</text>
<text x="117.9" y="524.8" font-family='"Liberation Sans", sans-serif' font-size="8.2" fill="#333" text-anchor="middle" >550</text>
<text x="156.9" y="524.8" font-family='"Liberation Sans", sans-serif' font-size="8.2" fill="#333" text-anchor="middle" >700</text>
<text x="195.3" y="524.8" font-family='"Liberation Sans", sans-serif' font-size="8.2" fill="#333" text-anchor="middle" >800</text>
<text x="232.8" y="524.8" font-family='"Liberation Sans", sans-serif' font-size="8.2" fill="#333" text-anchor="middle" >900</text>
<text x="152.5" y="539.5" font-family='"Liberation Sans", sans-serif' font-size="8.2" fill="#333" text-anchor="middle" >Wavelenght (nm)</text>
<text x="0" y="0" transform="translate(50.7,451) rotate(-90)" font-family='"Liberation Sans", sans-serif' font-size="8.0" fill="#333" text-anchor="middle" dominant-baseline="central" >Intensity (a.u.)</text>
<path d="M61.2,465.1 L61.3,464.9 L61.4,464.2 L61.4,463.9 L61.5,463.8 L61.6,463.6 L61.8,463.1 L61.9,462.8 L62.0,462.4 L62.1,462.0 L62.2,461.9 L62.4,461.4 L62.5,460.9 L62.7,460.5 L62.8,460.1 L63.0,458.9 L63.1,458.8 L63.3,458.1 L63.4,457.8 L63.6,457.4 L63.7,456.7 L63.9,456.0 L64.1,455.5 L64.3,455.2 L64.4,454.4 L64.6,453.8 L64.8,452.8 L64.9,452.1 L65.1,451.3 L65.3,451.5 L65.5,450.9 L65.7,450.3 L65.8,449.6 L66.0,448.9 L66.1,448.4 L66.3,448.0 L66.4,447.5 L66.5,447.3 L66.7,446.7 L66.8,446.0 L67.0,446.2 L67.1,445.7 L67.3,444.9 L67.4,444.6 L67.6,444.2 L67.7,443.7 L67.9,442.5 L68.0,442.5 L68.2,441.7 L68.3,441.4 L68.5,440.7 L68.7,440.0 L68.8,439.8 L69.0,439.3 L69.1,439.2 L69.3,438.5 L69.5,437.8 L69.6,436.9 L69.8,436.4 L69.9,436.1 L70.1,436.1 L70.3,435.3 L70.4,434.7 L70.6,434.4 L70.7,433.9 L70.9,433.2 L71.0,433.2 L71.2,432.7 L71.3,431.7 L71.5,431.3 L71.6,430.9 L71.8,430.5 L71.9,429.9 L72.1,429.5 L72.2,429.1 L72.3,428.8 L72.4,428.2 L72.6,427.8 L72.7,427.5 L72.9,427.1 L73.1,426.4 L73.3,425.6 L73.5,425.2 L73.7,424.6 L73.9,423.7 L74.1,423.7 L74.3,423.2 L74.4,421.9 L74.6,421.4 L74.8,420.9 L74.9,420.6 L75.1,420.0 L75.3,419.9 L75.4,419.4 L75.6,418.8 L75.7,418.5 L75.9,418.1 L76.0,417.7 L76.2,417.3 L76.3,416.6 L76.5,416.7 L76.6,416.5 L76.7,416.0 L76.9,415.8 L77.0,414.9 L77.2,414.5 L77.5,413.6 L77.7,412.8 L77.9,412.5 L78.1,412.1 L78.3,411.0 L78.5,410.5 L78.7,410.3 L78.9,409.7 L79.0,409.3 L79.2,409.0 L79.3,408.5 L79.4,408.3 L79.5,408.3" fill="none" stroke="#1a30f0" stroke-width="1.6" stroke-linejoin="round" stroke-linecap="round" />
<path d="M78.5,408.8 L78.6,410.0 L78.6,409.3 L78.7,409.7 L78.8,408.0 L78.8,410.7 L78.9,409.4 L79.1,407.5 L79.2,406.8 L79.3,406.3 L79.5,406.6 L79.7,407.8 L80.0,406.7 L80.1,404.9 L80.3,405.5 L80.4,407.7 L80.6,406.2 L80.7,403.5 L80.9,403.8 L81.1,403.2 L81.3,403.7 L81.5,403.9 L81.6,402.3 L81.8,402.5 L82.0,402.7 L82.3,403.0 L82.5,401.0 L82.7,400.9 L82.9,402.9 L83.1,400.9 L83.3,400.7 L83.6,400.5 L83.8,399.0 L84.0,399.1 L84.3,400.9 L84.5,400.4 L84.8,397.7 L85.0,398.7 L85.2,397.2 L85.5,396.8 L85.7,398.0 L86.0,399.0 L86.3,397.1 L86.5,398.4 L86.8,395.4 L87.1,396.0 L87.4,395.5 L87.7,395.5 L88.0,396.3 L88.3,396.2 L88.6,394.9 L88.8,394.0 L89.1,394.6 L89.4,395.0 L89.7,393.9 L90.0,392.3 L90.3,391.6 L90.6,394.1 L90.8,393.7 L91.1,393.5 L91.4,394.6 L91.6,394.4 L91.9,392.7 L92.1,392.3 L92.5,394.1 L92.9,393.8 L93.2,394.4 L93.6,393.8 L93.9,393.6 L94.2,393.5 L94.5,393.5 L94.8,393.3 L95.1,393.4 L95.4,393.7 L95.7,394.6 L96.0,395.3 L96.3,394.4 L96.7,395.4 L97.0,394.3 L97.2,394.7 L97.5,394.1 L97.7,395.1 L97.9,394.7 L98.1,394.7 L98.3,395.6 L98.5,394.2 L98.7,396.0 L98.9,397.0 L99.1,397.8 L99.3,395.9 L99.6,397.1 L99.8,395.6 L100.0,399.3 L100.3,398.4 L100.6,399.5 L100.9,397.7 L101.2,399.3 L101.5,399.0 L101.9,399.2 L102.3,398.9 L102.5,399.7 L102.7,399.8 L102.9,399.4 L103.1,402.6 L103.3,401.2 L103.5,401.0 L103.8,401.0 L104.0,401.4 L104.2,402.2 L104.5,403.6 L104.7,403.1 L105.0,405.2 L105.3,403.5 L105.5,404.6 L105.8,402.1 L106.1,404.1 L106.3,405.0 L106.6,406.2 L106.9,406.6 L107.2,404.6 L107.5,405.0 L107.7,406.8 L108.0,405.5 L108.3,405.1 L108.6,408.2 L108.9,407.7 L109.2,405.9 L109.4,406.9 L109.7,409.3 L110.0,407.7 L110.3,407.6 L110.5,408.0 L110.8,410.4 L111.1,407.9 L111.3,409.9 L111.6,409.9 L111.9,410.5 L112.1,410.7 L112.4,409.8 L112.6,410.7 L112.8,411.1 L113.1,412.7 L113.3,408.7 L113.5,411.3 L113.7,411.8 L113.9,410.9 L114.1,413.5 L114.5,413.0 L114.8,411.1 L115.1,412.3 L115.4,413.4 L115.7,413.5 L116.0,413.4 L116.2,415.0 L116.5,414.9 L116.7,414.3 L116.9,415.4 L117.1,417.2 L117.4,416.9 L117.6,414.6 L117.8,415.3 L118.0,417.5 L118.2,417.5 L118.4,417.1 L118.6,417.5 L118.8,417.9 L119.0,418.9 L119.3,415.4 L119.5,418.5 L119.7,416.4 L120.0,416.6 L120.2,417.4 L120.5,418.2 L120.7,418.8 L121.0,420.6 L121.2,419.9 L121.4,421.4 L121.7,418.9 L121.9,421.1 L122.2,419.0 L122.4,420.8 L122.7,420.8 L122.9,422.6 L123.2,420.2 L123.4,421.9 L123.7,423.8 L124.0,424.2 L124.2,422.2 L124.5,423.1 L124.7,423.6 L125.0,424.1 L125.3,425.2 L125.5,425.4 L125.8,422.0 L126.1,424.9 L126.3,427.8 L126.6,424.7 L126.9,424.8 L127.1,425.5 L127.4,424.1 L127.6,425.6 L127.8,426.3 L128.0,428.9 L128.3,426.7 L128.5,427.7 L128.7,427.3 L128.9,426.7 L129.2,427.0 L129.4,426.8 L129.6,429.0 L129.9,427.5 L130.1,426.7 L130.3,428.8 L130.6,431.9 L130.8,430.5 L131.0,430.5 L131.3,430.1 L131.5,429.2 L131.8,428.8 L132.0,432.3 L132.3,428.2 L132.5,430.9 L132.8,430.6 L133.0,431.7 L133.3,432.1 L133.6,434.4 L133.9,434.7 L134.1,433.3 L134.4,432.0 L134.7,433.3 L135.0,433.9 L135.2,433.7 L135.4,433.5 L135.6,436.4 L135.8,435.8 L136.0,434.0 L136.3,434.7 L136.5,435.7 L136.7,435.3 L136.9,437.3 L137.2,438.1 L137.4,437.2 L137.7,436.0 L137.9,436.8 L138.2,435.6 L138.4,437.3 L138.7,439.6 L138.9,438.0 L139.2,439.3 L139.5,440.4 L139.7,440.9 L140.0,438.4 L140.2,439.7 L140.5,440.2 L140.8,442.5 L141.0,442.5 L141.3,440.6 L141.5,441.7 L141.8,443.0 L142.0,445.1 L142.3,443.1 L142.5,444.7 L142.8,442.5 L143.0,442.6 L143.3,445.0 L143.5,443.5 L143.7,442.5 L143.9,445.8 L144.1,446.1 L144.4,445.0 L144.6,447.3 L144.8,446.5 L144.9,446.3 L145.1,445.0 L145.3,446.7 L145.5,445.3 L145.6,445.2 L145.8,447.8 L145.9,446.5 L146.1,447.3 L146.2,447.6 L146.3,447.8" fill="none" stroke="#1a30f0" stroke-width="3.3" stroke-linejoin="round" stroke-linecap="round" />
<path d="M61.2,501.1 L61.6,501.0 L62.1,500.5 L62.6,500.1 L63.3,499.5 L63.9,499.4 L64.5,498.8 L64.9,498.4 L65.3,497.9 L65.7,497.8 L66.2,497.3 L66.6,496.6 L67.0,496.1 L67.4,495.5 L67.8,494.9 L68.1,494.5 L68.4,494.0 L68.7,493.7 L69.0,493.0 L69.3,492.5 L69.5,492.2 L69.8,491.3 L70.1,490.6 L70.4,490.3 L70.7,489.3 L71.0,489.0 L71.2,488.6 L71.5,488.0 L71.7,487.4 L72.0,486.5 L72.3,486.4 L72.5,485.7 L72.8,484.9 L73.0,484.8 L73.3,483.7 L73.5,483.1 L73.8,482.4 L74.0,482.1 L74.2,481.6 L74.4,481.1 L74.6,480.3 L74.8,479.6 L75.0,479.2 L75.2,478.4 L75.4,477.7 L75.5,477.5 L75.7,476.7 L75.9,476.1 L76.0,475.5 L76.2,474.7 L76.3,474.1 L76.5,473.6 L76.6,472.8 L76.8,472.4 L76.9,471.7 L77.1,471.0 L77.2,470.7 L77.4,469.8 L77.5,469.4 L77.6,468.8 L77.8,468.3 L77.9,467.4 L78.1,466.8 L78.2,466.3 L78.4,465.7 L78.5,465.1 L78.6,464.5 L78.7,463.9 L78.9,463.4 L79.0,463.0 L79.1,461.9 L79.2,461.6 L79.4,461.1 L79.5,460.4 L79.6,460.0 L79.7,459.1 L79.9,458.4 L80.0,458.1 L80.1,456.9 L80.2,456.7 L80.4,456.5 L80.5,455.5 L80.6,455.0 L80.7,454.2 L80.9,453.7 L81.0,453.0 L81.1,452.7 L81.2,451.7 L81.4,450.8 L81.5,450.6 L81.6,450.1 L81.7,449.2 L81.9,448.4 L82.0,447.8 L82.1,447.5 L82.2,446.7 L82.4,446.2 L82.5,445.2 L82.6,444.9 L82.7,444.5 L82.8,443.8 L83.0,443.1 L83.1,442.9 L83.2,442.4 L83.3,441.7 L83.4,441.1 L83.5,440.9 L83.6,440.1 L83.7,439.6 L83.8,439.3 L84.0,438.4 L84.1,437.6 L84.3,436.6 L84.5,436.0 L84.6,435.5 L84.7,435.0 L84.8,434.7 L84.9,433.9 L85.0,433.3 L85.2,432.9 L85.3,432.4 L85.4,431.7 L85.5,431.1 L85.6,430.6 L85.8,430.1 L85.9,429.4 L86.0,429.0 L86.2,427.9 L86.3,427.7 L86.5,426.9 L86.6,426.4 L86.7,426.0 L86.9,425.1 L87.0,424.5 L87.2,423.9 L87.3,422.9 L87.5,422.6 L87.6,421.9 L87.8,421.2 L87.9,420.6 L88.1,419.9 L88.2,419.1 L88.4,418.4 L88.5,418.1 L88.6,417.7 L88.8,416.7 L88.9,416.3 L89.0,415.4 L89.2,414.9 L89.3,414.3 L89.5,413.5 L89.6,413.0 L89.7,412.6 L89.9,411.8 L90.0,411.0 L90.2,410.6 L90.3,409.8 L90.4,409.4 L90.6,408.3 L90.7,408.2 L90.9,407.1 L91.0,406.3 L91.2,405.7 L91.3,405.4 L91.5,404.8 L91.6,404.1 L91.8,403.5 L91.9,402.7 L92.1,402.3 L92.2,401.4 L92.4,401.1 L92.5,400.8 L92.7,399.9 L92.8,400.1 L93.0,399.5 L93.1,398.7 L93.3,398.6 L93.7,397.7 L94.1,396.8 L94.6,396.2 L95.0,395.4 L95.5,394.9 L95.9,394.6 L96.4,394.2 L96.8,393.8 L97.3,393.6 L97.7,393.4 L98.1,393.2 L98.5,392.8 L98.9,392.7 L99.6,392.9 L100.2,393.1 L100.8,393.2 L101.4,393.5 L101.9,394.2 L102.5,394.7 L103.0,394.8 L103.5,395.3 L103.8,395.2 L104.1,395.5 L104.5,395.8 L104.9,396.4 L105.5,396.6 L106.3,398.1 L106.5,398.6 L106.7,399.0 L106.9,399.4 L107.2,399.5 L107.4,400.1 L107.7,400.5 L107.9,401.2 L108.2,401.4 L108.5,402.0 L108.8,402.5 L109.0,402.8 L109.3,403.6 L109.6,403.9 L109.9,404.7 L110.3,405.1 L110.6,406.0 L110.9,406.4 L111.2,407.3 L111.5,407.2 L111.8,408.4 L112.2,408.9 L112.5,409.4 L112.8,410.4 L113.1,410.4 L113.4,411.3 L113.7,412.1 L114.0,412.6 L114.4,413.1 L114.7,413.8 L115.0,414.3 L115.2,414.9 L115.5,415.4 L115.8,416.3 L116.1,416.7 L116.3,417.6 L116.6,417.9 L116.8,418.1 L117.1,419.1 L117.3,419.4 L117.6,420.1 L117.8,420.8 L118.1,421.2 L118.4,422.0 L118.6,422.6 L118.9,423.3 L119.1,424.0 L119.4,424.6 L119.7,425.5 L119.9,426.0 L120.2,426.6 L120.4,427.3 L120.7,428.1 L120.9,428.6 L121.1,428.9 L121.4,429.7 L121.6,430.4 L121.9,431.0 L122.1,431.4 L122.3,432.0 L122.5,432.4 L122.8,433.0 L123.0,433.4 L123.2,434.2 L123.4,434.4 L123.6,434.8 L123.8,435.4 L123.9,435.8 L124.1,436.0 L124.3,436.6 L124.9,437.6 L125.4,438.7 L125.9,439.3 L126.3,439.7 L126.6,440.0 L127.0,440.1 L127.3,440.3 L127.6,440.2 L128.0,440.7 L128.6,440.4 L129.2,440.4 L129.8,439.7 L130.4,439.1 L131.0,438.7 L131.6,438.9 L132.0,439.1 L132.3,439.5 L132.7,440.0 L133.1,440.4 L133.4,441.2 L133.8,441.5 L134.2,442.2 L134.6,443.0 L135.0,443.4 L135.4,444.0 L135.7,444.6 L136.1,444.9 L136.5,445.2 L136.8,446.0 L137.2,446.1 L137.6,446.7 L138.1,447.4 L138.5,447.7 L139.0,448.4 L139.5,449.0 L139.8,449.6 L140.2,449.6 L140.6,450.2 L141.0,450.8 L141.4,451.4 L141.8,452.0 L142.3,452.5 L142.7,453.2 L143.2,453.6 L143.6,453.9 L144.0,454.4 L144.5,455.0 L144.8,455.5 L145.2,456.0 L145.5,456.6 L145.8,456.7 L146.1,457.3 L146.3,457.6" fill="none" stroke="#111" stroke-width="1.5" stroke-linejoin="round" stroke-linecap="round" />
<path d="M61.2,492.1 L61.4,492.1 L61.6,491.7 L61.9,491.4 L62.2,490.8 L62.5,490.1 L62.8,490.0 L63.2,489.3 L63.5,489.0 L63.9,488.5 L64.2,487.9 L64.5,487.4 L64.8,486.9 L65.1,486.7 L65.3,486.3 L65.6,486.0 L65.9,485.4 L66.2,484.9 L66.4,484.6 L66.7,484.1 L67.0,483.7 L67.3,483.2 L67.5,482.8 L67.8,482.3 L68.1,481.9 L68.3,481.3 L68.6,480.9 L68.9,480.6 L69.1,480.0 L69.4,479.9 L69.7,479.3 L69.9,479.3 L70.2,478.5 L70.5,478.1 L70.7,477.6 L71.0,477.1 L71.2,476.7 L71.5,476.2 L71.7,475.8 L71.9,475.6 L72.2,474.9 L72.4,474.7 L72.6,474.5 L72.9,474.1 L73.1,473.6 L73.4,473.1 L73.6,472.5 L73.9,472.0 L74.1,471.3 L74.4,470.6 L74.6,470.3 L74.7,470.1 L74.9,469.7 L75.0,469.1 L75.2,468.9 L75.4,468.6 L75.5,468.0 L75.7,467.3 L75.9,466.7 L76.1,466.6 L76.2,465.8 L76.4,465.2 L76.6,465.1 L76.8,464.6 L76.9,464.1 L77.1,463.9 L77.3,463.0 L77.5,462.6 L77.6,461.8 L77.8,461.4 L78.0,461.3 L78.2,460.7 L78.3,460.1 L78.5,459.4 L78.6,459.1 L78.8,458.5 L78.9,457.9 L79.1,457.4 L79.2,456.9 L79.3,456.5 L79.5,456.2 L79.6,455.4 L79.8,454.9 L79.9,454.5 L80.0,453.9 L80.2,453.4 L80.3,453.1 L80.5,452.6 L80.6,452.3 L80.7,451.8 L80.9,451.2 L81.0,450.3 L81.2,449.5 L81.3,449.2 L81.4,448.8 L81.6,448.2 L81.7,448.0 L81.8,447.3 L82.0,447.0 L82.1,446.6 L82.2,446.0 L82.4,445.4 L82.5,444.9 L82.6,444.4 L82.7,443.9 L82.9,443.7 L83.0,442.8 L83.2,442.1 L83.3,441.8 L83.4,441.4 L83.6,440.8 L83.7,440.0 L83.8,440.1 L84.0,439.5 L84.1,438.9 L84.2,438.4 L84.4,437.9 L84.5,437.4 L84.6,437.1 L84.7,436.7 L84.8,436.2 L85.0,435.6 L85.1,435.3 L85.2,434.7 L85.3,434.4 L85.4,433.5 L85.6,433.3 L85.7,432.9 L85.8,432.5 L85.9,431.8 L86.1,431.4 L86.2,430.8 L86.3,430.2 L86.4,429.5 L86.6,429.1 L86.7,428.6 L86.8,428.3 L86.9,427.6 L87.0,427.3 L87.2,426.8 L87.3,425.9 L87.4,425.5 L87.5,425.2 L87.6,424.5 L87.7,424.0 L87.8,423.9 L88.0,423.2 L88.1,422.5 L88.2,422.2 L88.3,422.1 L88.4,421.5 L88.5,421.1 L88.6,420.3 L88.8,419.8 L88.9,418.9 L89.1,418.2 L89.3,417.9 L89.4,417.3 L89.6,417.3 L89.7,416.6 L89.8,416.0 L90.0,415.5 L90.1,414.8 L90.2,414.4 L90.3,414.2 L90.4,413.8 L90.5,413.1 L90.6,413.0 L90.7,412.4" fill="none" stroke="#f8141a" stroke-width="2.1" stroke-linejoin="round" stroke-linecap="round" />
<line x1="78.5" y1="455" x2="78.5" y2="461" stroke="#f8141a" stroke-width="0.8" />
<line x1="74.4" y1="467" x2="74.4" y2="472" stroke="#f8141a" stroke-width="0.8" />
<line x1="67.8" y1="478" x2="67.8" y2="484" stroke="#f8141a" stroke-width="0.8" />
<path d="M89.5,416.8 L89.6,415.9 L89.7,416.0 L89.8,416.0 L89.9,414.3 L90.0,413.8 L90.2,414.3 L90.4,413.4 L90.7,412.6 L90.8,411.9 L90.9,413.4 L91.0,412.9 L91.1,411.6 L91.1,410.8 L91.3,410.9 L91.4,409.8 L91.5,409.5 L91.6,408.2 L91.7,408.7 L91.8,407.8 L91.9,407.0 L92.1,405.7 L92.2,405.8 L92.3,404.7 L92.4,404.5 L92.6,403.9 L92.7,403.8 L92.8,403.5 L92.9,403.1 L93.1,402.6 L93.2,402.4 L93.3,400.9 L93.4,400.1 L93.5,399.6 L93.7,399.7 L93.8,400.3 L93.9,399.8 L94.0,399.4 L94.3,397.7 L94.6,396.7 L94.9,396.4 L95.2,396.2 L95.5,395.8 L95.8,394.9 L96.1,394.8 L96.4,394.5 L96.7,394.7 L97.0,393.8 L97.5,393.4 L97.9,393.2 L98.3,393.0 L98.8,392.8 L99.2,391.8 L99.7,392.1 L100.2,392.4 L100.8,391.5 L101.3,391.4 L101.9,391.6 L102.5,391.6 L103.1,392.4 L103.5,391.0 L104.0,391.7 L104.5,392.7 L105.0,393.1 L105.5,393.6 L106.0,393.4 L106.5,393.7 L106.9,393.5 L107.3,394.4 L107.6,394.8 L107.9,395.2 L108.1,396.3 L108.4,396.8 L108.6,397.7 L108.8,398.0 L109.0,398.5 L109.2,398.7 L109.5,398.8 L109.7,399.4 L110.0,399.1 L110.2,400.2 L110.5,399.8 L110.7,400.7 L111.0,400.8 L111.3,401.6 L111.5,402.5 L111.8,403.2 L112.1,403.7 L112.4,403.6 L112.7,403.5 L112.9,403.5 L113.2,404.0 L113.4,404.8 L113.7,405.9 L113.9,405.7 L114.1,405.5 L114.3,405.8 L114.4,406.2 L114.6,407.2 L114.8,407.2 L114.9,408.5 L115.1,409.9 L115.3,409.1 L115.4,409.7 L115.6,409.4 L115.8,410.9 L116.0,411.5 L116.1,411.7 L116.3,412.3 L116.5,411.7 L116.7,413.1 L116.9,414.2 L117.0,414.3 L117.2,415.1 L117.3,415.4 L117.5,415.8 L117.6,416.5 L117.7,417.1 L117.9,417.9 L118.0,417.5 L118.2,417.4 L118.3,418.1 L118.4,418.5 L118.6,419.7 L118.7,420.3 L118.9,420.4 L119.0,421.1 L119.2,420.8 L119.4,421.6 L119.5,421.8 L119.7,422.2 L119.9,422.8 L120.1,424.3 L120.3,424.9 L120.5,425.0 L120.7,425.9 L120.9,426.8 L121.1,428.0 L121.3,428.5 L121.4,428.5 L121.6,427.8 L121.7,427.7 L121.9,428.4 L122.1,429.6 L122.3,429.4 L122.5,429.6 L122.7,429.2 L122.9,430.1 L123.1,431.6 L123.3,432.4 L123.5,433.1 L123.7,432.8 L123.9,432.3 L124.1,433.2 L124.3,434.2 L124.5,436.1 L124.7,436.3 L125.0,437.3 L125.2,437.4 L125.4,437.5 L125.6,438.3 L125.8,438.4 L126.0,439.8 L126.2,439.2 L126.4,440.7 L126.6,440.5 L126.8,441.7 L127.0,441.7 L127.2,442.0 L127.4,442.6 L127.5,442.3 L127.7,442.7 L127.9,442.1 L128.1,442.1 L128.2,442.6 L128.4,444.1 L128.5,445.5 L128.9,446.2 L129.3,446.8 L129.6,447.9 L129.9,448.6 L130.1,448.5 L130.4,448.1 L130.6,448.6 L130.8,448.0 L131.1,448.3 L131.5,448.2 L131.9,448.3 L132.1,449.2 L132.4,451.3 L132.6,451.4 L132.9,451.0 L133.1,450.5 L133.4,452.1 L133.7,451.4 L134.0,451.7 L134.3,452.8 L134.6,452.7 L134.9,453.6 L135.2,453.4 L135.5,454.0 L135.8,455.1 L136.1,455.4 L136.5,456.3 L136.8,455.8 L137.1,457.4 L137.4,457.4 L137.7,457.2 L138.1,457.7 L138.4,458.3 L138.7,460.0 L139.0,459.4 L139.3,460.3 L139.6,460.4 L139.9,461.3 L140.2,462.9 L140.6,463.1 L140.9,463.4 L141.2,463.0 L141.6,463.1 L141.9,463.8 L142.3,464.1 L142.6,464.9 L142.9,464.6 L143.3,465.0 L143.6,464.9 L143.9,466.0 L144.2,466.6 L144.5,466.6 L144.8,468.1 L145.0,468.5 L145.3,469.0 L145.5,469.2 L145.8,469.4 L146.0,469.2 L146.1,469.4 L146.3,469.2" fill="none" stroke="#f8141a" stroke-width="2.5" stroke-linejoin="round" stroke-linecap="round" />
<line x1="147.8" y1="443.4" x2="147.8" y2="470" stroke="#8a7af0" stroke-width="1.0" />
<line x1="147.8" y1="470" x2="147.8" y2="495.7" stroke="#f02a50" stroke-width="1.0" />
<line x1="89.9" y1="379.3" x2="89.9" y2="395" stroke="#6a7af5" stroke-width="0.9" />
<line x1="77.8" y1="398.8" x2="77.8" y2="412" stroke="#6a7af5" stroke-width="0.9" />
<line x1="72.7" y1="417.3" x2="72.7" y2="428" stroke="#6a7af5" stroke-width="0.9" />
<line x1="94.2" y1="385.3" x2="94.2" y2="395" stroke="#6a7af5" stroke-width="0.9" />
<line x1="110.4" y1="376" x2="110.4" y2="383" stroke="#7080f0" stroke-width="0.9" />
<line x1="97.7" y1="389" x2="97.7" y2="394" stroke="#6a7af5" stroke-width="0.9" />
<line x1="139" y1="416.9" x2="139" y2="440" stroke="#7a8af5" stroke-width="0.9" />
<line x1="159.3" y1="452.7" x2="159.3" y2="486" stroke="#7a8af5" stroke-width="0.9" />
<line x1="167.6" y1="475.4" x2="167.6" y2="491" stroke="#7a8af5" stroke-width="0.9" />
<line x1="110.4" y1="383" x2="110.4" y2="406" stroke="#c03070" stroke-width="1.0" />
<line x1="108.4" y1="387" x2="108.4" y2="402" stroke="#e83050" stroke-width="0.9" />
<line x1="115.6" y1="403.5" x2="115.6" y2="409" stroke="#f02030" stroke-width="0.9" />
<path d="M149.5,480.1 L149.8,479.9 L150.1,480.2 L150.4,480.7 L150.8,480.9 L151.2,481.1 L151.7,481.2 L152.1,481.3 L152.6,482.1 L153.1,482.2 L153.7,483.0 L154.2,483.2 L154.8,483.4 L155.4,484.1 L155.9,484.6 L156.5,484.9 L157.1,485.0 L157.7,485.7 L158.2,486.1 L158.8,486.6 L159.3,486.9 L159.7,486.8 L160.2,487.2 L160.7,487.9 L161.2,487.5 L161.7,488.6 L162.3,488.5 L162.8,488.9 L163.3,489.9 L163.8,489.8 L164.4,490.0 L164.9,490.6 L165.4,490.8 L166.0,491.0 L166.5,491.6 L167.0,492.5 L167.6,492.4 L168.1,492.6 L168.6,492.9 L169.1,493.4 L169.6,493.6 L170.1,493.5 L170.6,494.2 L171.2,494.3 L171.7,495.2 L172.3,494.9 L172.9,495.6 L173.4,495.2 L173.9,495.9 L174.5,495.9 L175.0,496.1 L175.5,496.9 L176.1,496.6 L176.6,497.1 L177.1,497.2 L177.6,497.8 L178.2,498.0 L178.7,497.5 L179.2,498.6 L179.7,498.4 L180.3,499.5 L180.8,499.4 L181.4,499.6 L181.9,498.9 L182.5,500.4 L183.0,500.2 L183.6,500.0 L184.2,500.7 L184.7,501.3 L185.3,500.7 L185.8,501.7 L186.4,501.5 L187.0,501.7 L187.5,502.0 L188.1,502.1 L188.6,502.6 L189.2,502.8 L189.8,503.2 L190.3,503.5 L190.9,503.2 L191.5,503.8 L192.1,503.3 L192.7,504.0 L193.2,503.7 L193.8,504.0 L194.4,504.5 L194.9,504.2 L195.5,504.7 L196.1,504.3 L196.7,504.6 L197.3,505.1 L197.9,505.4 L198.6,504.7 L199.2,505.6 L199.9,505.3 L200.6,505.9 L201.3,505.2 L201.8,505.2 L202.4,505.4 L203.0,505.0 L203.5,505.4 L204.2,505.3 L204.8,505.7 L205.4,505.4 L206.0,504.9 L206.7,504.9 L207.3,505.0 L208.0,504.6 L208.6,504.6 L209.3,505.8 L209.9,504.9 L210.6,505.4 L211.2,504.8 L211.9,504.8 L212.5,504.4 L213.1,505.2 L213.7,504.7 L214.3,505.2 L214.9,504.4 L215.5,504.9 L216.0,504.9 L216.7,504.0 L217.4,504.4 L218.1,503.8 L218.7,503.6 L219.4,503.8 L220.0,503.8 L220.6,503.8 L221.3,503.1 L221.9,503.3 L222.4,503.0 L223.0,502.7 L223.6,502.2 L224.1,502.4 L224.6,503.3 L225.2,501.9 L225.7,502.0 L226.1,501.8 L226.6,502.4 L227.4,502.6 L228.2,502.6 L228.9,503.0 L229.5,502.7 L230.2,503.6 L230.7,503.2 L231.2,504.2 L231.7,504.5 L232.1,504.1 L232.4,504.8" fill="none" stroke="#1a30f0" stroke-width="1.7" stroke-linejoin="round" stroke-linecap="round" />
<path d="M149.5,495.6 L149.8,495.7 L150.2,496.0 L150.6,496.3 L151.1,496.3 L151.6,496.6 L152.2,496.8 L152.8,497.1 L153.4,497.0 L154.1,497.5 L154.7,497.7 L155.4,497.8 L156.1,498.0 L156.8,498.4 L157.5,498.5 L158.1,498.6 L158.8,499.1 L159.3,499.4 L159.9,499.4 L160.4,499.8 L161.0,499.7 L161.5,499.8 L162.1,499.9 L162.7,500.2 L163.3,500.8 L163.8,500.7 L164.4,500.5 L165.0,501.1 L165.6,501.2 L166.2,501.3 L166.9,501.5 L167.5,501.6 L168.1,501.8 L168.7,501.7 L169.3,501.9 L170.0,502.2 L170.6,502.6 L171.2,502.6 L171.8,503.0 L172.4,502.9 L173.0,502.4 L173.7,502.9 L174.3,503.1 L174.9,503.0 L175.6,502.7 L176.2,503.0 L176.9,503.0 L177.6,503.3 L178.2,503.5 L178.9,503.4 L179.5,503.1 L180.1,503.5 L180.7,503.4 L181.3,503.6 L181.9,503.3 L182.5,503.4 L183.1,503.3 L183.6,503.3 L184.1,503.6 L184.9,503.4 L185.6,503.2 L186.3,502.8 L186.9,502.8 L187.6,502.8 L188.2,502.8 L188.8,502.2 L189.3,502.5 L189.9,501.9 L190.4,501.7 L191.0,501.9 L191.5,501.3 L192.1,501.2 L192.6,501.0 L193.1,500.6 L193.5,499.9 L194.0,499.7 L194.4,499.3 L194.9,499.2 L195.3,498.7 L195.7,498.5 L196.1,497.9 L196.5,497.6 L197.0,496.9 L197.4,496.4 L197.8,495.6 L198.2,495.3 L198.7,494.6 L199.1,494.2 L199.6,494.1 L199.9,493.4 L200.3,493.0 L200.6,492.5 L201.0,492.0 L201.3,491.7 L201.7,491.4 L202.1,490.5 L202.4,490.2 L202.8,489.6 L203.2,489.3 L203.5,489.4 L203.9,488.7 L204.3,488.2 L204.7,487.0 L205.0,486.5 L205.4,486.4 L205.7,485.5 L206.1,485.2 L206.5,484.4 L206.8,484.3 L207.1,483.5 L207.5,482.9 L207.8,483.0 L208.1,481.9 L208.3,481.2 L208.6,480.8 L208.9,480.7 L209.1,479.8 L209.4,479.8 L209.7,478.7 L209.9,478.5 L210.2,477.7 L210.4,477.6 L210.7,477.1 L210.9,476.5 L211.2,475.8 L211.4,475.2 L211.7,474.7 L211.9,474.0 L212.1,473.5 L212.4,473.4 L212.6,472.4 L212.8,471.9 L213.1,471.6 L213.3,470.8 L213.5,470.2 L213.8,469.7 L214.0,469.0 L214.2,468.3 L214.4,467.6 L214.6,467.4 L214.7,466.9 L214.9,465.6 L215.0,465.9 L215.2,465.1 L215.3,464.4 L215.5,464.1 L215.6,463.0 L215.8,462.8 L215.9,462.4 L216.1,461.5 L216.2,460.5 L216.4,460.4 L216.5,459.8 L216.7,459.5 L216.8,458.8 L216.9,458.4 L217.1,457.4 L217.2,456.9 L217.4,456.3 L217.5,455.5 L217.6,455.0 L217.7,454.9 L217.9,453.6 L218.0,453.2 L218.1,452.5 L218.3,452.0 L218.4,451.1 L218.5,450.9 L218.6,450.0 L218.7,449.4 L218.9,448.7 L219.0,448.3 L219.1,447.4 L219.2,447.2 L219.3,446.3 L219.4,445.8 L219.5,445.4 L219.6,444.9 L219.7,444.0 L219.8,443.3 L219.9,442.8 L220.0,442.4 L220.1,441.6 L220.2,441.1 L220.3,440.6 L220.4,439.4 L220.5,439.2 L220.5,438.6 L220.6,437.9 L220.7,437.5 L220.8,436.7 L220.9,436.2 L221.0,435.6 L221.0,435.4 L221.1,434.2 L221.2,433.8 L221.3,433.4 L221.3,432.7 L221.4,431.7 L221.5,431.4 L221.5,430.4 L221.6,430.3 L221.7,429.6 L221.8,428.8 L221.8,428.0 L221.9,427.6 L222.0,426.8 L222.1,426.1 L222.1,425.7 L222.2,425.2 L222.3,424.3 L222.3,423.7 L222.4,423.1 L222.5,422.9 L222.5,421.8 L222.6,421.2 L222.6,420.9 L222.7,420.1 L222.8,419.7 L222.8,418.9 L222.9,418.0 L222.9,417.7 L223.0,416.5 L223.1,416.2 L223.1,415.4 L223.2,415.0 L223.2,414.0 L223.3,413.5 L223.4,412.7 L223.4,412.1 L223.5,411.5 L223.5,410.6 L223.6,410.0 L223.6,409.7 L223.7,408.8 L223.8,408.6 L223.8,407.5 L223.9,406.6 L223.9,405.9 L224.0,405.9 L224.0,405.0 L224.1,404.3 L224.1,404.3 L224.2,403.3 L224.2,402.7 L224.3,402.5 L224.3,401.8 L224.4,401.4 L224.4,400.9 L224.5,400.3 L224.5,399.8 L224.6,399.0 L224.7,397.9 L224.8,396.8 L224.9,395.4 L225.0,394.9 L225.1,394.3 L225.2,393.8 L225.3,393.0 L225.3,392.7 L225.4,391.5 L225.5,391.4 L225.6,391.2 L225.6,390.7 L225.7,390.8 L225.8,390.9 L225.9,390.9 L226.0,391.1 L226.0,390.8 L226.1,391.1 L226.2,391.7 L226.3,392.2 L226.3,392.4 L226.4,393.1 L226.5,393.8 L226.6,394.8 L226.7,395.6 L226.7,396.7 L226.8,397.7 L226.9,399.3 L227.0,399.9 L227.0,400.4 L227.1,400.8 L227.1,401.6 L227.1,402.2 L227.1,402.3 L227.2,402.8 L227.2,403.5 L227.2,403.7 L227.3,404.3 L227.3,404.3 L227.3,405.5 L227.3,405.9 L227.4,406.8 L227.4,407.3 L227.4,407.7 L227.5,408.5 L227.5,409.1 L227.5,409.8 L227.5,410.5 L227.6,411.2 L227.6,411.8 L227.6,412.5 L227.7,413.3 L227.7,413.9 L227.7,414.6 L227.8,415.2 L227.8,415.8 L227.8,416.4 L227.9,417.3 L227.9,417.9 L227.9,418.9 L227.9,419.4 L228.0,419.7 L228.0,420.8 L228.0,421.3 L228.1,422.1 L228.1,422.5 L228.1,423.3 L228.2,424.0 L228.2,424.3 L228.2,425.3 L228.3,425.6 L228.3,426.1 L228.3,426.8 L228.3,427.5 L228.4,427.7 L228.4,428.8 L228.4,429.2 L228.5,429.4 L228.5,430.0 L228.6,431.2 L228.6,431.6 L228.7,432.4 L228.7,433.5 L228.8,434.1 L228.8,434.4 L228.9,435.5 L228.9,436.2 L229.0,436.7 L229.0,437.4 L229.1,437.7 L229.1,438.9 L229.2,439.0 L229.2,439.4 L229.3,440.2 L229.3,440.4 L229.4,441.1 L229.4,441.6 L229.5,442.5 L229.5,443.2 L229.6,443.4 L229.7,444.0 L229.7,444.2 L229.8,445.0 L229.9,445.3 L229.9,446.4 L230.0,446.7 L230.1,447.0 L230.2,447.9 L230.4,448.2 L230.5,449.5 L230.6,450.4 L230.8,450.8 L230.9,451.6 L231.1,452.0 L231.2,452.9 L231.4,453.4 L231.5,454.2 L231.7,454.4 L231.8,455.1 L231.9,455.6 L232.0,456.4 L232.1,456.2 L232.2,457.5 L232.3,457.9 L232.4,457.7" fill="none" stroke="#f8141a" stroke-width="2.3" stroke-linejoin="round" stroke-linecap="round" />
<path d="M149.5,496.4 L149.8,496.8 L150.2,496.7 L150.6,497.1 L151.1,497.0 L151.7,497.1 L152.2,497.6 L152.8,497.7 L153.4,498.1 L154.1,498.4 L154.8,498.6 L155.4,498.8 L156.1,498.9 L156.8,499.2 L157.5,499.6 L158.1,500.1 L158.8,500.1 L159.4,500.1 L160.0,500.5 L160.6,500.8 L161.2,500.9 L161.7,500.9 L162.3,501.3 L162.9,501.6 L163.4,501.8 L164.0,501.6 L164.5,502.0 L165.1,502.4 L165.7,502.8 L166.3,502.8 L166.8,502.7 L167.4,503.1 L168.0,503.1 L168.7,503.3 L169.3,503.4 L169.9,503.7 L170.6,504.1 L171.1,503.8 L171.7,504.2 L172.3,504.2 L172.8,504.4 L173.4,504.5 L174.0,504.5 L174.6,504.7 L175.1,504.9 L175.7,504.7 L176.3,505.1 L176.9,505.1 L177.6,505.4 L178.2,504.9 L178.8,505.3 L179.4,505.3 L180.1,505.4 L180.7,505.3 L181.4,505.6 L182.0,505.6 L182.7,505.5 L183.4,505.6 L184.1,505.9 L184.7,505.8 L185.2,506.0 L185.8,506.2 L186.4,505.9 L187.0,505.9 L187.6,505.7 L188.3,505.6 L188.9,505.9 L189.6,505.9 L190.2,506.1 L190.9,506.1 L191.5,506.0 L192.2,506.0 L192.8,505.8 L193.5,506.0 L194.1,505.7 L194.8,506.0 L195.4,506.1 L196.1,505.5 L196.7,505.7 L197.3,505.9 L197.9,505.8 L198.5,505.7 L199.1,505.4 L199.7,505.8 L200.2,505.5 L200.8,505.4 L201.3,505.4 L202.0,505.2 L202.7,505.1 L203.4,504.8 L204.0,504.6 L204.6,504.1 L205.2,504.3 L205.8,504.2 L206.4,503.4 L207.0,503.4 L207.6,503.1 L208.1,502.7 L208.6,502.5 L209.2,502.0 L209.7,502.1 L210.2,501.7 L210.7,501.5 L211.2,501.4 L211.7,501.0 L212.2,500.5 L212.7,500.6 L213.3,500.1 L214.0,499.8 L214.6,499.3 L215.2,499.1 L215.8,498.7 L216.4,498.3 L216.9,498.1 L217.5,498.0 L218.0,497.7 L218.5,497.1 L219.0,496.8 L219.5,496.6 L220.0,496.0 L220.5,495.7 L220.9,495.6 L221.4,495.3 L221.9,494.5 L222.4,493.8 L222.8,493.2 L223.3,492.5 L223.7,491.8 L224.0,491.3 L224.4,490.7 L224.8,490.3 L225.1,489.9 L225.5,489.9 L225.8,489.8 L226.1,489.9 L226.4,490.1 L226.7,490.8 L226.9,491.4 L227.2,492.0 L227.4,492.6 L227.7,493.0 L227.9,494.0 L228.1,495.1 L228.4,495.3 L228.6,495.9 L228.9,496.7 L229.1,496.7 L229.6,497.9 L230.1,498.5 L230.7,498.9 L231.2,499.6 L231.7,499.7 L232.1,500.2 L232.4,500.2" fill="none" stroke="#111" stroke-width="1.3" stroke-linejoin="round" stroke-linecap="round" />
<line x1="204.7" y1="495.5" x2="204.7" y2="503.5" stroke="#555" stroke-width="1.1" />
<line x1="212.3" y1="496.3" x2="212.3" y2="504.3" stroke="#555" stroke-width="1.1" />
<line x1="215.6" y1="489.5" x2="215.6" y2="497.5" stroke="#555" stroke-width="1.1" />
<line x1="196.4" y1="502" x2="196.4" y2="510" stroke="#555" stroke-width="1.1" />
<line x1="151.2" y1="494" x2="151.2" y2="499" stroke="#555" stroke-width="1.1" />
<line x1="159.7" y1="496" x2="159.7" y2="501" stroke="#555" stroke-width="1.1" />
<line x1="171.5" y1="500" x2="171.5" y2="505" stroke="#555" stroke-width="1.1" />
<text x="150.5" y="452" font-family='"Liberation Serif", serif' font-size="15" fill="#111" text-anchor="start" >i</text>
<text x="149" y="469.5" font-family='"Liberation Serif", serif' font-size="15" fill="#111" text-anchor="start" >ii</text>
<text x="123.5" y="474.5" font-family='"Liberation Serif", serif' font-size="15" fill="#111" text-anchor="start" >iii</text>
<text x="256.5" y="370.5" font-family='"Liberation Serif", serif' font-size="16" fill="#000" text-anchor="start" >2</text>
<rect x="269.3" y="373.4" width="178.0" height="143.60000000000002" fill="none" stroke="#222" stroke-width="1.1"/>
<line x1="280.425" y1="517.0" x2="280.425" y2="514.8" stroke="#222" stroke-width="1" />
<line x1="280.425" y1="373.4" x2="280.425" y2="375.59999999999997" stroke="#222" stroke-width="1" />
<text x="280.425" y="528.5" font-family='"Liberation Sans", sans-serif' font-size="8.4" fill="#333" text-anchor="middle" >850</text>
<line x1="336.05" y1="517.0" x2="336.05" y2="514.8" stroke="#222" stroke-width="1" />
<line x1="336.05" y1="373.4" x2="336.05" y2="375.59999999999997" stroke="#222" stroke-width="1" />
<text x="336.05" y="528.5" font-family='"Liberation Sans", sans-serif' font-size="8.4" fill="#333" text-anchor="middle" >900</text>
<line x1="391.675" y1="517.0" x2="391.675" y2="514.8" stroke="#222" stroke-width="1" />
<line x1="391.675" y1="373.4" x2="391.675" y2="375.59999999999997" stroke="#222" stroke-width="1" />
<text x="391.675" y="528.5" font-family='"Liberation Sans", sans-serif' font-size="8.4" fill="#333" text-anchor="middle" >950</text>
<line x1="447.3" y1="517.0" x2="447.3" y2="514.8" stroke="#222" stroke-width="1" />
<line x1="447.3" y1="373.4" x2="447.3" y2="375.59999999999997" stroke="#222" stroke-width="1" />
<text x="447.3" y="528.5" font-family='"Liberation Sans", sans-serif' font-size="8.4" fill="#333" text-anchor="middle" >1000</text>
<line x1="308.2375" y1="517.0" x2="308.2375" y2="515.5" stroke="#222" stroke-width="0.9" />
<line x1="308.2375" y1="373.4" x2="308.2375" y2="374.9" stroke="#222" stroke-width="0.9" />
<line x1="363.8625" y1="517.0" x2="363.8625" y2="515.5" stroke="#222" stroke-width="0.9" />
<line x1="363.8625" y1="373.4" x2="363.8625" y2="374.9" stroke="#222" stroke-width="0.9" />
<line x1="419.4875" y1="517.0" x2="419.4875" y2="515.5" stroke="#222" stroke-width="0.9" />
<line x1="419.4875" y1="373.4" x2="419.4875" y2="374.9" stroke="#222" stroke-width="0.9" />
<line x1="269.3" y1="391.1" x2="270.90000000000003" y2="391.1" stroke="#222" stroke-width="1" />
<line x1="447.3" y1="391.1" x2="445.7" y2="391.1" stroke="#444" stroke-width="0.9" />
<line x1="269.3" y1="409.4" x2="271.90000000000003" y2="409.4" stroke="#222" stroke-width="1" />
<line x1="447.3" y1="409.4" x2="444.7" y2="409.4" stroke="#444" stroke-width="0.9" />
<line x1="269.3" y1="427.2" x2="270.90000000000003" y2="427.2" stroke="#222" stroke-width="1" />
<line x1="447.3" y1="427.2" x2="445.7" y2="427.2" stroke="#444" stroke-width="0.9" />
<line x1="269.3" y1="445.3" x2="271.90000000000003" y2="445.3" stroke="#222" stroke-width="1" />
<line x1="447.3" y1="445.3" x2="444.7" y2="445.3" stroke="#444" stroke-width="0.9" />
<line x1="269.3" y1="463.2" x2="270.90000000000003" y2="463.2" stroke="#222" stroke-width="1" />
<line x1="447.3" y1="463.2" x2="445.7" y2="463.2" stroke="#444" stroke-width="0.9" />
<line x1="269.3" y1="481.3" x2="271.90000000000003" y2="481.3" stroke="#222" stroke-width="1" />
<line x1="447.3" y1="481.3" x2="444.7" y2="481.3" stroke="#444" stroke-width="0.9" />
<line x1="269.3" y1="499.5" x2="270.90000000000003" y2="499.5" stroke="#222" stroke-width="1" />
<line x1="447.3" y1="499.5" x2="445.7" y2="499.5" stroke="#444" stroke-width="0.9" />
<text x="362.4" y="542.5" font-family='"Liberation Sans", sans-serif' font-size="8.2" fill="#333" text-anchor="middle" >Wavelength (nm)</text>
<text x="0" y="0" transform="translate(256.7,440.3) rotate(-90)" font-family='"Liberation Sans", sans-serif' font-size="8.2" fill="#333" text-anchor="middle" dominant-baseline="central" textLength="51.8" lengthAdjust="spacingAndGlyphs" >Intensity (a.u.)</text>
<line x1="349.9" y1="384.3" x2="366.9" y2="384.3" stroke="#111" stroke-width="1.2" />
<text x="369.7" y="387.2" font-family='"Liberation Sans", sans-serif' font-size="8.2" fill="#222" text-anchor="start" >25 μm, λ<tspan font-size="4" dy="1.5">ex</tspan><tspan dy="-1.5">=325 nm</tspan></text>
<line x1="349.9" y1="393.6" x2="366.9" y2="393.6" stroke="#f23a3a" stroke-width="1.2" />
<text x="369.7" y="396.5" font-family='"Liberation Sans", sans-serif' font-size="8.2" fill="#222" text-anchor="start" >25 μm, λ<tspan font-size="4" dy="1.5">ex</tspan><tspan dy="-1.5">=760 nm</tspan></text>
<line x1="349.9" y1="402.90000000000003" x2="366.9" y2="402.90000000000003" stroke="#2a3af0" stroke-width="1.2" />
<text x="369.7" y="405.8" font-family='"Liberation Sans", sans-serif' font-size="8.2" fill="#222" text-anchor="start" >500 nm, λ<tspan font-size="4" dy="1.5">ex</tspan><tspan dy="-1.5">=325 nm</tspan></text>
<line x1="349.9" y1="412.2" x2="366.9" y2="412.2" stroke="#f030f0" stroke-width="1.2" />
<text x="369.7" y="415.09999999999997" font-family='"Liberation Sans", sans-serif' font-size="8.2" fill="#222" text-anchor="start" >500 nm, λ<tspan font-size="4" dy="1.5">ex</tspan><tspan dy="-1.5">=760 nm</tspan></text>
<path d="M269.8,481.8 L270.0,481.6 L270.4,481.4 L271.0,480.4 L271.2,479.5 L271.3,478.8 L271.5,478.5 L271.7,478.8 L271.9,477.6 L272.2,476.9 L272.4,476.5 L272.6,476.0 L272.9,475.3 L273.1,474.9 L273.3,473.4 L273.6,472.0 L273.8,471.7 L274.0,470.1 L274.1,469.6 L274.2,468.8 L274.2,468.1 L274.3,468.3 L274.4,466.8 L274.4,466.5 L274.5,465.7 L274.6,465.8 L274.7,464.8 L274.7,463.8 L274.8,463.5 L274.9,463.2 L275.0,461.6 L275.0,460.9 L275.1,460.5 L275.2,459.7 L275.2,458.6 L275.3,457.9 L275.4,457.3 L275.5,456.8 L275.5,455.3 L275.6,455.2 L275.7,454.3 L275.8,454.0 L275.8,451.9 L275.9,451.7 L276.0,450.9 L276.0,450.7 L276.1,449.1 L276.2,448.5 L276.3,448.0 L276.4,447.4 L276.4,446.6 L276.5,445.3 L276.6,445.6 L276.7,444.0 L276.7,443.7 L276.8,443.2 L276.9,442.1 L277.0,441.6 L277.1,440.2 L277.2,439.9 L277.3,439.0 L277.4,437.9 L277.5,437.4 L277.6,436.5 L277.7,436.3 L277.8,435.0 L277.9,434.0 L278.0,433.7 L278.1,432.8 L278.2,433.0 L278.3,432.0 L278.4,430.7 L278.5,429.7 L278.6,429.9 L278.8,428.6 L278.9,427.2 L279.0,427.2 L279.1,425.8 L279.2,426.0 L279.3,425.1 L279.4,423.9 L279.5,423.5 L279.6,422.3 L279.7,423.0 L279.8,421.8 L279.9,421.4 L280.0,421.1 L280.0,420.0 L280.1,419.4 L280.2,418.9 L280.3,418.7 L280.5,417.0 L280.7,416.0 L280.9,415.1 L281.1,414.1 L281.2,412.9 L281.4,412.0 L281.5,411.5 L281.7,411.3 L281.8,411.1 L282.0,410.7 L282.2,410.1 L282.4,410.3 L282.6,410.3 L282.8,410.7 L283.1,410.2 L283.3,411.2 L283.5,411.4 L283.8,411.8 L284.0,413.3 L284.3,414.0 L284.5,413.9 L284.8,415.7 L285.0,417.3 L285.3,419.0 L285.4,418.7 L285.4,419.7 L285.5,420.2 L285.6,420.4 L285.7,421.5 L285.7,421.6 L285.8,422.4 L285.9,422.8 L285.9,423.9 L286.0,424.6 L286.1,425.0 L286.2,425.6 L286.2,426.6 L286.3,427.4 L286.4,428.1 L286.5,428.8 L286.5,430.0 L286.6,430.3 L286.7,431.3 L286.8,432.6 L286.9,432.6 L286.9,433.7 L287.0,434.6 L287.1,435.1 L287.2,435.7 L287.2,436.6 L287.3,437.1 L287.4,438.6 L287.5,439.4 L287.5,440.4 L287.6,441.6 L287.7,441.8 L287.8,442.6 L287.9,443.5 L287.9,443.9 L288.0,444.3 L288.1,445.3 L288.2,446.3 L288.2,446.9 L288.3,447.6 L288.4,448.0 L288.5,448.9 L288.5,449.4 L288.6,450.0 L288.7,450.2 L288.8,451.3 L289.0,452.6 L289.1,454.1 L289.2,454.5 L289.4,455.6 L289.5,456.9 L289.6,457.3 L289.8,457.9 L289.9,458.2 L290.0,459.5 L290.2,460.8 L290.3,460.8 L290.4,461.7 L290.6,462.5 L290.7,463.3 L290.8,463.5 L291.0,464.6 L291.1,465.1 L291.3,465.1 L291.4,465.0 L291.6,466.6 L291.8,466.8 L291.9,467.2 L292.1,466.9 L292.7,468.0 L293.4,468.4 L294.0,468.4 L294.7,467.8 L295.5,467.5 L296.3,466.1 L297.1,465.4 L297.6,465.4 L298.0,465.4 L298.5,464.2 L299.1,463.6 L299.6,464.1 L300.1,462.8 L300.7,462.5 L301.2,462.4 L301.8,461.0 L302.3,460.8 L302.8,460.3 L303.4,459.6 L303.9,459.0 L304.4,458.3 L305.0,457.8 L305.5,457.7 L306.0,456.0 L306.6,456.3 L307.1,455.5 L307.6,454.9 L308.1,454.4 L308.7,453.8 L309.2,453.5 L309.7,452.3 L310.1,452.8 L310.6,452.5 L311.4,452.0 L312.1,451.9 L312.7,452.4 L313.4,453.0 L314.0,453.1 L314.8,453.4 L315.7,452.6 L316.3,453.9 L316.9,453.5 L317.5,453.5 L318.2,454.0 L318.9,454.5 L319.6,453.7 L320.3,454.8 L321.0,454.6 L321.8,455.0 L322.6,455.1 L323.3,455.7 L324.1,455.7 L324.7,455.7 L325.4,455.8 L326.1,456.2 L326.8,456.8 L327.5,456.6 L328.2,457.4 L328.9,457.7 L329.6,457.7 L330.4,457.2 L331.1,458.2 L331.8,458.5 L332.4,458.8 L333.1,458.8 L333.7,459.4 L334.3,459.6 L335.1,459.3 L335.9,459.7 L336.7,460.2 L337.4,459.9 L338.1,459.9 L338.8,460.4 L339.4,459.2 L340.1,460.5 L340.7,460.1 L341.3,459.8 L341.9,461.2 L342.4,461.9 L343.0,462.0 L343.5,462.8 L344.0,463.6 L344.5,463.8 L344.9,464.6 L345.4,465.2 L345.9,465.2 L346.4,465.6 L347.1,465.4 L347.8,465.0 L348.5,464.9 L349.2,464.5 L350.0,463.9 L350.7,463.7 L351.5,463.7 L352.1,463.9 L352.6,463.8 L353.2,464.2 L353.8,464.3 L354.3,465.7 L354.9,466.0 L355.6,466.2 L356.3,466.7 L357.0,467.5 L357.8,467.3 L358.4,467.7 L358.9,467.8 L359.5,468.2 L360.2,468.9 L360.8,468.5 L361.4,469.2 L362.1,469.1 L362.8,469.1 L363.5,469.7 L364.2,469.2 L364.9,469.8 L365.7,470.0 L366.4,470.9 L367.1,470.3 L367.9,470.7 L368.6,470.4 L369.2,470.7 L370.0,471.5 L370.7,472.1 L371.5,472.2 L372.2,471.6 L373.0,472.0 L373.8,472.2 L374.6,472.9 L375.3,473.5 L376.1,473.7 L376.8,473.7 L377.6,473.8 L378.2,473.3 L378.9,473.0 L379.5,474.2 L380.1,473.8 L380.6,474.3 L381.5,473.9 L382.2,474.1 L382.7,473.2 L383.1,472.5 L383.5,472.1 L384.0,472.0 L384.7,471.1 L385.6,471.5 L386.1,470.7 L386.6,470.7 L387.2,471.0 L387.8,471.2 L388.4,471.5 L389.1,471.4 L389.7,471.6 L390.4,471.3 L391.2,472.3 L391.9,472.0 L392.6,472.4 L393.4,472.6 L394.2,473.3 L395.0,472.4 L395.8,473.1 L396.6,473.8 L397.5,472.8 L398.3,473.5 L398.9,473.8 L399.6,474.0 L400.2,473.7 L400.9,474.5 L401.6,474.0 L402.4,475.0 L403.1,474.7 L403.9,474.5 L404.6,475.5 L405.4,475.4 L406.2,475.6 L406.9,475.9 L407.7,475.7 L408.5,475.8 L409.2,476.3 L410.0,476.7 L410.7,476.6 L411.5,476.4 L412.2,477.2 L412.9,476.5 L413.5,476.7 L414.2,476.8 L414.8,476.9 L415.4,477.1 L416.0,477.2 L416.9,476.7 L417.8,476.6 L418.6,477.0 L419.3,476.9 L420.1,476.1 L420.8,476.5 L421.4,475.9 L422.1,475.8 L422.7,475.5 L423.3,475.2 L423.9,474.6 L424.4,474.4 L425.0,473.8 L425.5,473.6 L426.1,473.1 L426.7,472.6 L427.2,472.1 L427.8,471.6 L428.3,470.9 L428.8,470.0 L429.2,469.2 L429.7,468.7 L430.1,468.4 L430.6,467.2 L431.0,466.7 L431.4,465.8 L431.8,465.4 L432.1,465.1 L432.5,465.5 L433.1,465.2 L433.6,465.4 L434.1,465.6 L434.5,466.3 L434.9,467.2 L435.3,467.8 L435.8,468.3 L436.3,469.4 L436.7,469.9 L437.1,470.1 L437.4,470.6 L437.9,471.8 L438.3,472.5 L438.7,473.2 L439.1,474.0 L439.5,474.8 L440.0,475.7 L440.4,475.6 L440.9,476.6 L441.3,477.4 L441.9,478.0 L442.6,477.8 L443.4,478.6 L444.1,479.0 L444.8,479.1 L445.5,479.2 L446.1,479.8 L446.6,480.5 L447.0,480.2" fill="none" stroke="#f42828" stroke-width="1.25" stroke-linejoin="round" stroke-linecap="round" />
<line x1="277.7" y1="468.4" x2="277.7" y2="480" stroke="#333" stroke-width="1.5" />
<line x1="279.9" y1="474.3" x2="279.9" y2="480" stroke="#333" stroke-width="1.5" />
<line x1="286.2" y1="449.8" x2="286.2" y2="478" stroke="#333" stroke-width="1.5" />
<line x1="290.4" y1="465.8" x2="290.4" y2="477" stroke="#333" stroke-width="1.5" />
<line x1="328.9" y1="470" x2="328.9" y2="476" stroke="#333" stroke-width="1.5" />
<path d="M269.8,484.3 L270.2,484.4 L270.7,484.2 L271.3,483.9 L272.0,483.8 L272.7,483.6 L273.5,483.2 L274.3,482.9 L275.2,482.3 L276.0,482.4 L276.9,481.8 L277.5,481.9 L278.1,481.7 L278.7,480.8 L279.4,481.2 L280.0,480.5 L280.7,480.2 L281.4,480.0 L282.1,479.9 L282.8,479.7 L283.5,479.8 L284.2,478.6 L284.9,478.5 L285.6,478.4 L286.3,477.9 L287.0,477.4 L287.6,477.4 L288.3,477.1 L288.9,477.0 L289.6,476.5 L290.2,476.6 L290.9,476.1 L291.5,476.0 L292.1,475.3 L292.8,474.7 L293.4,475.1 L294.1,474.7 L294.7,474.4 L295.3,473.9 L295.9,473.5 L296.5,473.1 L297.1,472.9 L297.6,472.1 L298.2,471.7 L298.7,471.3 L299.3,470.9 L299.8,470.7 L300.4,469.6 L300.9,469.7 L301.4,468.6 L301.9,468.0 L302.4,467.4 L302.9,467.1 L303.4,466.6 L303.9,465.5 L304.3,465.1 L304.8,464.5 L305.2,463.9 L305.6,463.2 L306.0,462.9 L306.4,462.3 L306.8,461.5 L307.2,460.6 L307.6,460.1 L307.9,459.6 L308.2,458.8 L308.5,458.2 L308.8,457.3 L309.1,456.9 L309.4,456.2 L309.7,455.4 L310.0,454.9 L310.3,454.3 L310.6,454.0 L311.3,453.1 L311.9,452.3 L312.5,451.6 L313.1,450.9 L313.7,450.8 L314.3,450.3 L314.9,450.6 L315.3,450.4 L315.7,450.9 L316.0,451.7 L316.4,452.0 L316.8,452.7 L317.1,453.1 L317.5,453.7 L317.9,454.6 L318.3,455.6 L318.7,456.4 L319.1,457.8 L319.3,458.3 L319.6,458.7 L319.8,459.0 L320.0,459.8 L320.3,460.4 L320.5,461.1 L320.8,461.9 L321.0,462.7 L321.2,463.5 L321.5,464.3 L321.7,464.7 L322.0,465.7 L322.3,466.7 L322.5,467.4 L322.8,467.7 L323.0,468.7 L323.3,469.3 L323.6,469.6 L323.8,470.4 L324.1,471.0 L324.7,471.7 L325.2,472.8 L325.8,472.9 L326.4,473.5 L327.0,474.0 L327.6,474.4 L328.2,474.5 L328.8,475.0 L329.4,475.2 L330.0,476.0 L330.7,476.1 L331.4,476.2 L332.2,476.7 L333.0,476.5 L333.7,477.0 L334.4,477.5 L335.1,477.0 L335.6,477.7 L336.0,477.7" fill="none" stroke="#000" stroke-width="2.2" stroke-linejoin="round" stroke-linecap="round" />
<path d="M269.8,504.2 L270.2,504.0 L270.7,504.5 L271.3,504.0 L272.0,503.9 L272.7,504.4 L273.5,504.7 L274.3,504.7 L275.2,504.7 L276.0,504.4 L276.9,504.1 L277.5,504.3 L278.2,504.3 L278.8,504.1 L279.5,503.8 L280.1,503.9 L280.8,504.0 L281.5,503.5 L282.3,503.7 L283.0,503.3 L283.8,504.1 L284.6,503.7 L285.4,503.3 L286.2,503.5 L287.0,503.1 L287.6,502.7 L288.2,502.7 L288.9,502.6 L289.5,503.6 L290.2,502.0 L290.9,501.3 L291.6,502.3 L292.3,501.5 L293.0,501.3 L293.7,501.9 L294.5,501.1 L295.2,500.7 L295.9,500.9 L296.6,500.3 L297.3,500.6 L298.0,499.9 L298.6,499.9 L299.3,500.0 L299.9,499.8 L300.5,498.1 L301.1,498.3 L301.6,497.9 L302.2,497.8 L302.7,496.9 L303.3,496.2 L303.8,496.4 L304.4,495.7 L304.9,494.8 L305.4,493.5 L305.9,493.5 L306.4,492.5 L306.9,492.9 L307.4,491.8 L307.9,491.2 L308.3,490.8 L308.7,490.2 L309.1,489.1 L309.5,489.2 L309.9,488.7 L310.3,487.4 L310.6,488.2 L311.5,487.0 L312.1,486.2 L312.5,485.9 L312.9,485.3 L313.3,485.7 L314.0,485.2 L314.5,484.9 L315.1,486.0 L315.8,485.7 L316.5,485.6 L317.2,485.9 L317.9,486.2 L318.7,486.7 L319.4,486.7 L320.1,487.2 L320.8,486.8 L321.5,487.0 L322.1,487.6 L322.8,488.0 L323.5,488.2 L324.1,488.3 L324.8,488.9 L325.5,489.6 L326.2,490.0 L326.8,489.7 L327.5,490.7 L328.2,490.9 L328.9,491.2 L329.6,491.7 L330.3,491.9 L331.0,492.7 L331.7,492.4 L332.3,492.6 L333.0,493.3 L333.7,493.6 L334.3,493.5 L335.1,494.3 L335.8,494.5 L336.4,494.4 L337.1,494.9 L337.8,495.6 L338.5,495.9 L339.2,495.6 L340.0,496.5 L340.6,496.6 L341.1,497.6 L341.7,497.2 L342.3,497.8 L342.9,497.5 L343.6,498.7 L344.2,498.7 L344.9,499.0 L345.6,499.3 L346.3,499.8 L347.0,500.0 L347.7,500.7 L348.3,500.6 L348.9,500.9 L349.6,502.0 L350.2,501.3 L350.9,501.6 L351.5,501.7 L352.2,501.8 L352.9,502.0 L353.6,501.7 L354.3,502.5 L355.0,502.6 L355.7,502.8 L356.4,502.6 L357.1,503.5 L357.8,503.1 L358.4,503.8 L359.0,503.9 L359.6,504.0 L360.2,505.2 L360.8,505.6 L361.4,505.9 L362.0,505.9 L362.6,506.0 L363.2,506.8 L363.8,507.1 L364.4,506.9 L365.1,508.2 L365.7,508.5 L366.4,508.4 L367.2,508.6 L367.9,509.2 L368.7,509.6 L369.3,510.3 L369.9,510.0 L370.6,509.7 L371.2,510.4 L371.9,510.0 L372.6,510.2 L373.3,510.8 L374.0,510.7 L374.7,510.5 L375.4,510.8 L376.2,511.0 L376.9,511.0 L377.6,511.3 L378.4,511.6 L379.1,511.6 L379.9,511.5 L380.6,512.1 L381.4,512.4 L382.1,512.3 L382.8,511.8 L383.6,512.0 L384.3,512.4 L385.0,512.6 L385.7,512.3 L386.4,512.9 L387.1,512.8 L387.8,512.6 L388.5,512.5 L389.2,513.1 L389.9,513.0 L390.5,513.9 L391.2,513.1 L391.9,513.3 L392.6,514.5 L393.3,513.3 L394.0,514.1 L394.7,513.9 L395.4,513.9 L396.1,513.7 L396.8,514.2 L397.5,514.7 L398.2,514.6 L399.0,514.4 L399.7,514.7 L400.4,514.4 L401.2,514.7 L401.9,515.0 L402.6,514.8 L403.2,515.1 L403.9,514.9 L404.6,514.6 L405.3,515.4 L406.0,514.8 L406.7,515.5 L407.5,515.5 L408.2,515.6 L408.9,515.5 L409.6,515.3 L410.4,515.1 L411.1,515.3 L411.8,515.3 L412.5,515.9 L413.3,515.1 L414.0,515.9 L414.8,515.6 L415.5,515.9 L416.3,516.1 L417.0,516.0 L417.8,516.2 L418.5,515.7 L419.3,515.8 L420.0,515.6 L420.7,516.0 L421.4,516.0 L422.2,516.2 L423.0,516.3 L423.8,516.6 L424.6,516.6 L425.4,516.1 L426.3,516.3 L427.1,516.2 L427.9,516.3 L428.8,516.8 L429.6,516.9 L430.5,516.7 L431.3,516.7 L432.1,516.3 L432.9,516.5 L433.7,516.6 L434.4,516.0 L435.2,516.8 L435.9,516.7 L436.5,517.3 L437.2,516.7 L437.8,516.3 L438.4,516.9 L438.9,516.8 L439.4,517.0 L439.8,516.6 L440.2,516.9" fill="none" stroke="#f020f0" stroke-width="1.2" stroke-linejoin="round" stroke-linecap="round" />
<path d="M269.8,505.0 L270.1,505.8 L270.4,507.1 L270.9,508.0 L271.3,507.3 L271.8,508.9 L272.4,508.3 L272.9,509.0 L273.5,509.6 L273.9,508.7 L274.3,510.1 L274.6,506.7 L275.0,507.6 L275.3,506.8 L275.7,506.7 L276.2,506.3 L276.7,504.8 L277.2,506.0 L277.9,504.2 L278.6,505.0 L279.1,505.2 L279.6,503.9 L280.1,505.2 L280.6,504.7 L281.2,504.3 L281.8,505.1 L282.5,505.6 L283.1,505.5 L283.7,505.0 L284.4,504.6 L285.1,504.5 L285.8,505.4 L286.4,505.0 L287.1,504.7 L287.8,504.6 L288.5,504.4 L289.1,504.5 L289.8,505.1 L290.4,504.2 L291.0,503.9 L291.5,503.9 L292.1,503.6 L292.7,503.3 L293.3,504.3 L293.9,504.6 L294.5,503.2 L295.0,503.1 L295.6,502.5 L296.2,502.6 L296.8,501.3 L297.4,501.8 L298.0,502.2 L298.5,500.4 L299.1,500.5 L299.6,500.2 L300.2,499.5 L300.7,500.1 L301.2,499.2 L301.7,499.9 L302.2,498.8 L302.8,498.1 L303.4,497.5 L303.9,496.9 L304.5,497.6 L305.0,496.7 L305.5,497.4 L306.1,496.0 L306.6,495.9 L307.1,495.4 L307.5,493.9 L308.0,494.7 L308.5,494.1 L308.9,493.1 L309.4,493.1 L309.8,493.1 L310.2,492.7 L310.6,492.4 L311.2,491.9 L311.7,491.7 L312.2,490.3 L312.6,489.6 L313.1,489.1 L313.5,489.0 L313.9,488.0 L314.3,487.3 L314.7,487.1 L315.2,488.5 L315.7,487.9 L316.1,488.7 L316.5,488.5 L316.9,488.5 L317.3,489.8 L317.7,490.1 L318.2,491.1 L318.6,489.7 L319.1,490.6 L319.5,491.7 L319.9,490.9 L320.4,492.9 L320.8,492.7 L321.2,493.4 L321.6,493.7 L322.0,495.5 L322.4,495.6 L322.8,495.0 L323.2,495.3 L323.6,497.5 L324.0,498.0 L324.3,497.8 L324.7,499.5 L325.0,499.0 L325.4,499.4 L325.7,500.3 L326.1,499.9 L326.5,500.1 L327.0,501.6 L327.5,501.2 L328.0,501.5 L328.6,502.7 L329.2,502.4 L329.9,501.8 L330.6,503.2 L331.4,502.8 L332.1,503.2 L332.8,503.1 L333.5,504.4 L334.1,503.7 L334.7,505.0 L335.2,504.5 L335.6,504.0 L336.0,505.2" fill="none" stroke="#1a2af0" stroke-width="1.5" stroke-linejoin="round" stroke-linecap="round" />
</svg></body></html>
